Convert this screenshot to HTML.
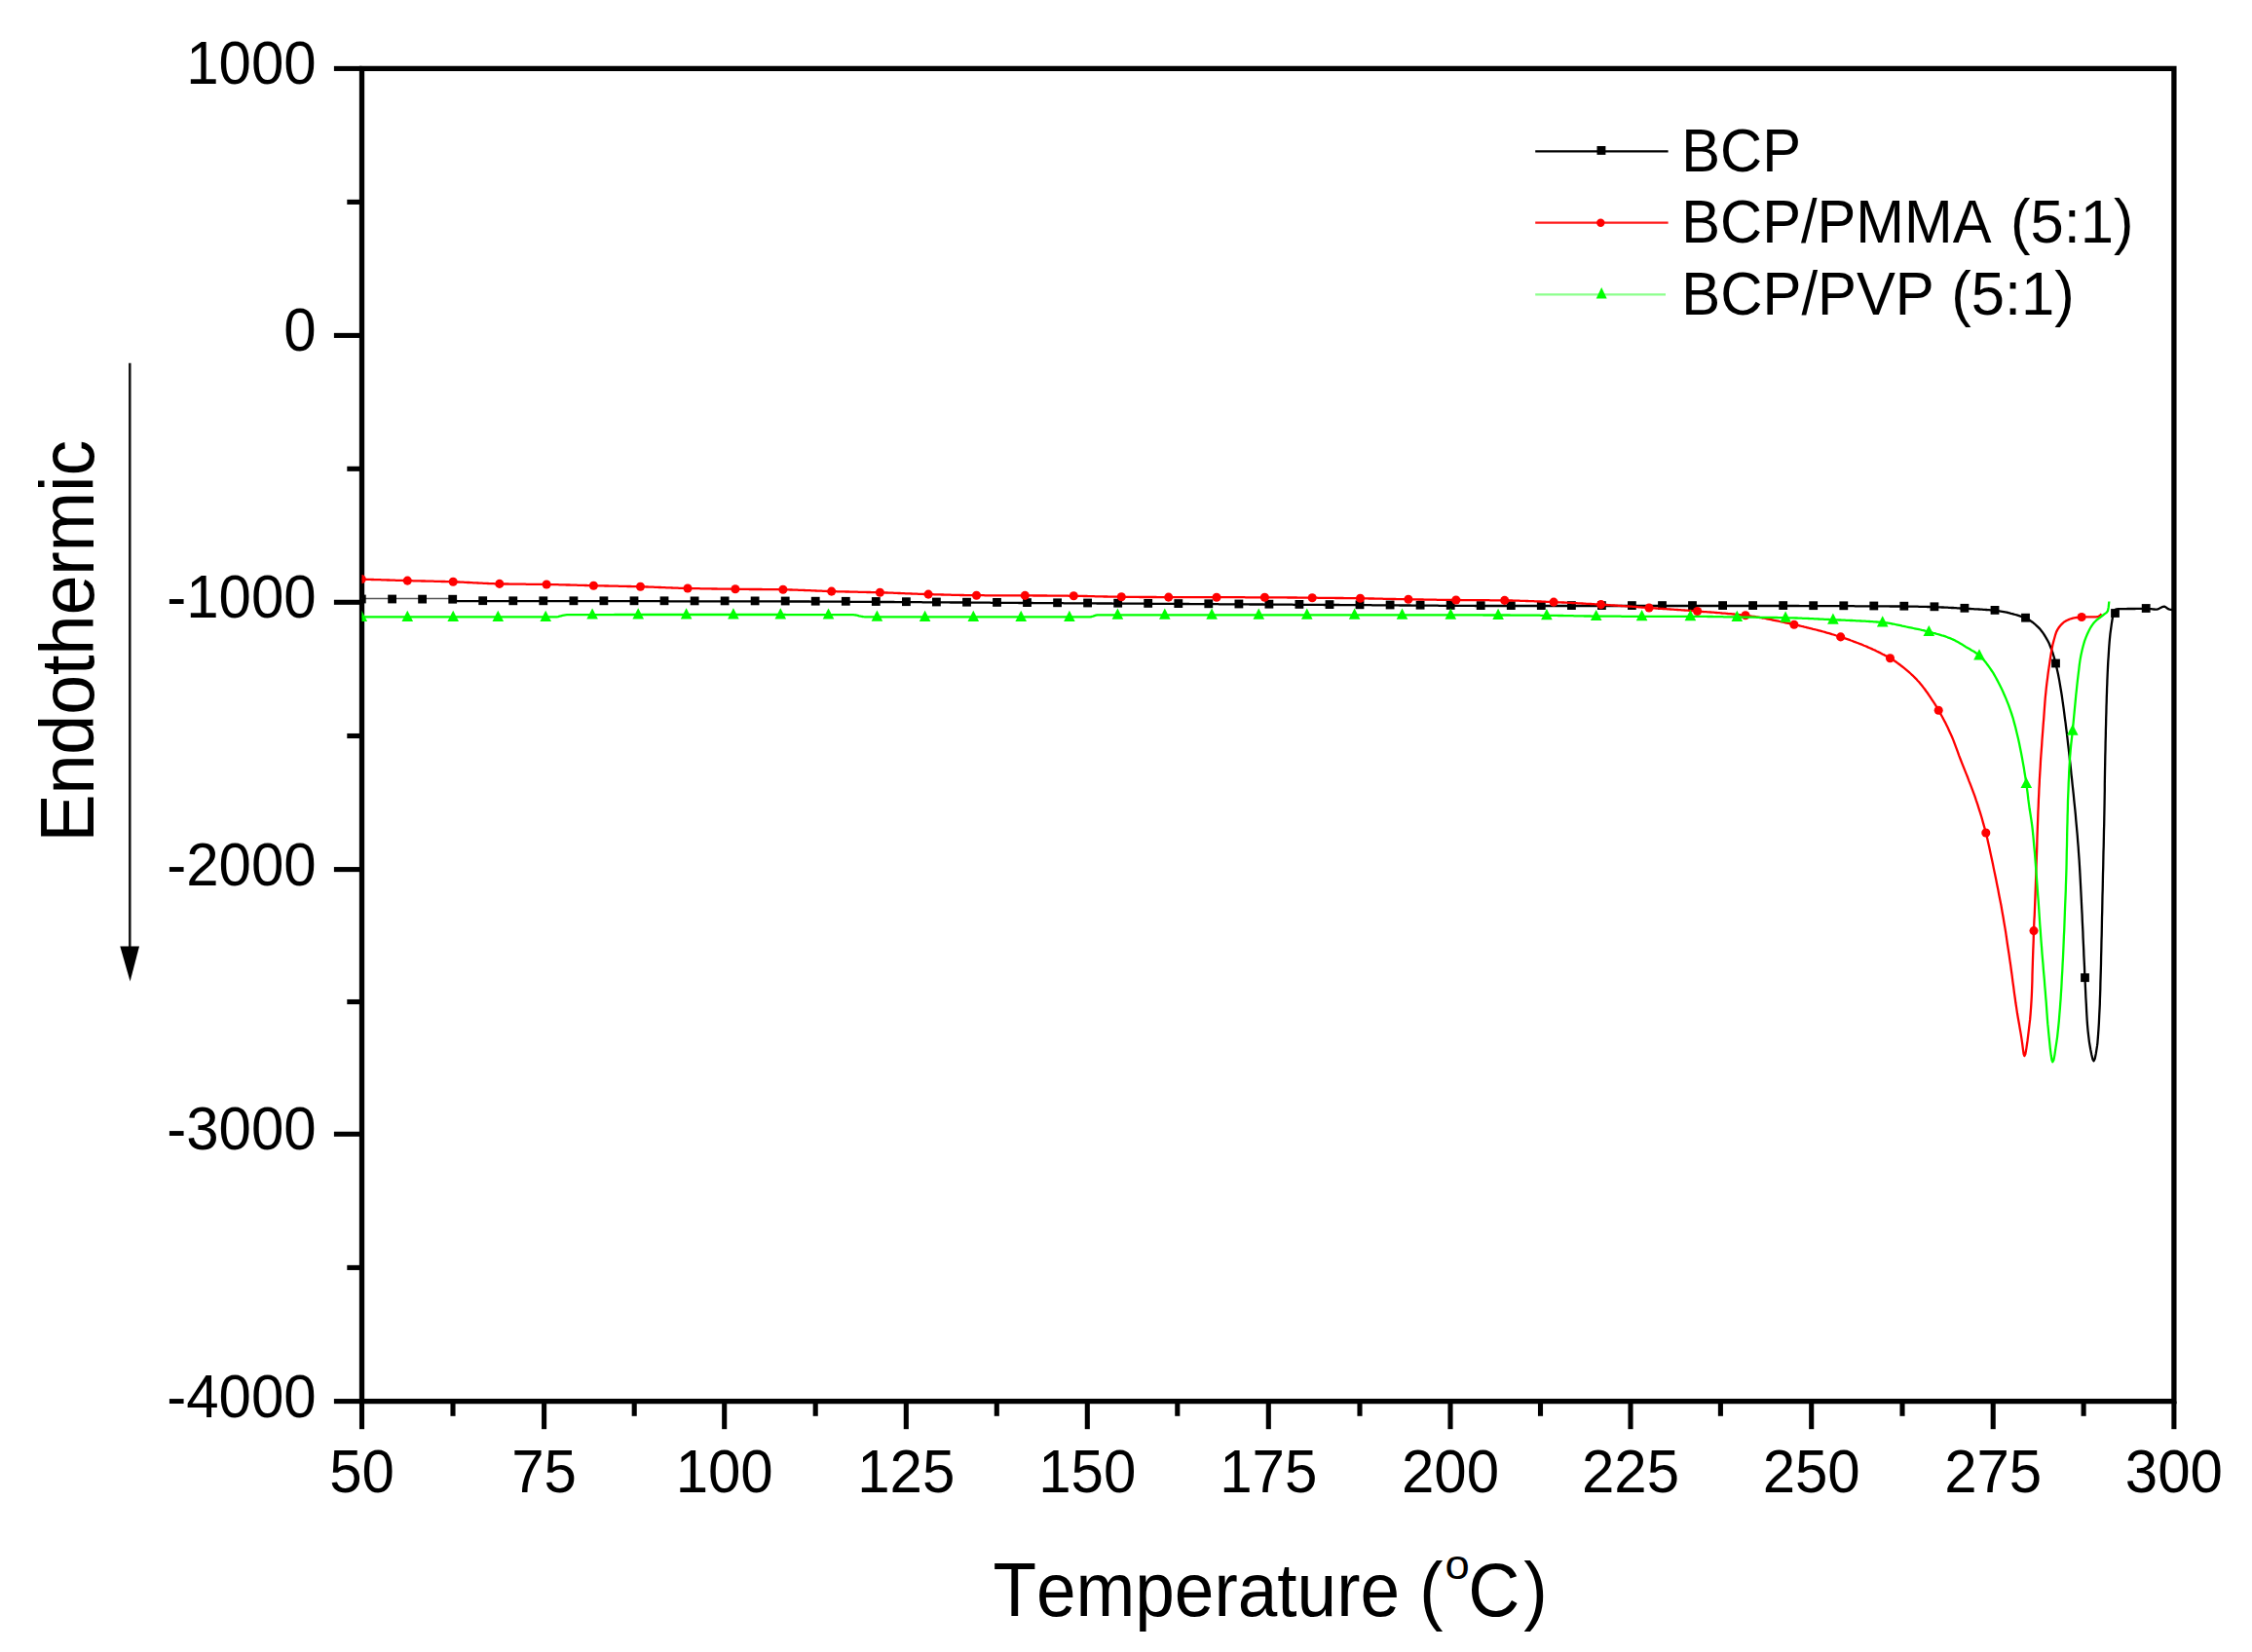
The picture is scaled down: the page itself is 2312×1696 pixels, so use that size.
<!DOCTYPE html>
<html lang="en">
<head>
<meta charset="utf-8">
<title>DSC thermogram</title>
<style>
html,body{margin:0;padding:0;background:#fff;}
body{width:2312px;height:1696px;overflow:hidden;}
svg{display:block;font-family:"Liberation Sans",Arial,Helvetica,sans-serif;font-kerning:none;font-variant-ligatures:none;}
</style>
</head>
<body>
<svg width="2312" height="1696" viewBox="0 0 2312 1696">
<rect width="2312" height="1696" fill="#fff"/>
<defs><clipPath id="plot"><rect x="371.5" y="70.4" width="1860.4" height="1368.2"/></clipPath></defs>
<g stroke="#000" fill="none" stroke-linecap="butt">
<rect x="371.5" y="70.4" width="1860.4" height="1368.2" stroke-width="5.3"/>
<line x1="342.9" y1="70.4" x2="371.5" y2="70.4" stroke-width="5.1"/>
<line x1="356.3" y1="207.4" x2="371.5" y2="207.4" stroke-width="5.1"/>
<line x1="342.9" y1="344.4" x2="371.5" y2="344.4" stroke-width="5.1"/>
<line x1="356.3" y1="481.3" x2="371.5" y2="481.3" stroke-width="5.1"/>
<line x1="342.9" y1="618.3" x2="371.5" y2="618.3" stroke-width="5.1"/>
<line x1="356.3" y1="755.5" x2="371.5" y2="755.5" stroke-width="5.1"/>
<line x1="342.9" y1="892.6" x2="371.5" y2="892.6" stroke-width="5.1"/>
<line x1="356.3" y1="1028.5" x2="371.5" y2="1028.5" stroke-width="5.1"/>
<line x1="342.9" y1="1164.3" x2="371.5" y2="1164.3" stroke-width="5.1"/>
<line x1="356.3" y1="1301.4" x2="371.5" y2="1301.4" stroke-width="5.1"/>
<line x1="342.9" y1="1438.6" x2="371.5" y2="1438.6" stroke-width="5.1"/>
<line x1="371.5" y1="1438.6" x2="371.5" y2="1467.2" stroke-width="5.1"/>
<line x1="465.0" y1="1438.6" x2="465.0" y2="1453.8" stroke-width="5.1"/>
<line x1="558.6" y1="1438.6" x2="558.6" y2="1467.2" stroke-width="5.1"/>
<line x1="651.2" y1="1438.6" x2="651.2" y2="1453.8" stroke-width="5.1"/>
<line x1="743.7" y1="1438.6" x2="743.7" y2="1467.2" stroke-width="5.1"/>
<line x1="837.2" y1="1438.6" x2="837.2" y2="1453.8" stroke-width="5.1"/>
<line x1="930.3" y1="1438.6" x2="930.3" y2="1467.2" stroke-width="5.1"/>
<line x1="1023.3" y1="1438.6" x2="1023.3" y2="1453.8" stroke-width="5.1"/>
<line x1="1116.3" y1="1438.6" x2="1116.3" y2="1467.2" stroke-width="5.1"/>
<line x1="1208.8" y1="1438.6" x2="1208.8" y2="1453.8" stroke-width="5.1"/>
<line x1="1302.3" y1="1438.6" x2="1302.3" y2="1467.2" stroke-width="5.1"/>
<line x1="1396.0" y1="1438.6" x2="1396.0" y2="1453.8" stroke-width="5.1"/>
<line x1="1489.0" y1="1438.6" x2="1489.0" y2="1467.2" stroke-width="5.1"/>
<line x1="1581.5" y1="1438.6" x2="1581.5" y2="1453.8" stroke-width="5.1"/>
<line x1="1674.0" y1="1438.6" x2="1674.0" y2="1467.2" stroke-width="5.1"/>
<line x1="1766.4" y1="1438.6" x2="1766.4" y2="1453.8" stroke-width="5.1"/>
<line x1="1859.7" y1="1438.6" x2="1859.7" y2="1467.2" stroke-width="5.1"/>
<line x1="1953.0" y1="1438.6" x2="1953.0" y2="1453.8" stroke-width="5.1"/>
<line x1="2046.2" y1="1438.6" x2="2046.2" y2="1467.2" stroke-width="5.1"/>
<line x1="2139.1" y1="1438.6" x2="2139.1" y2="1453.8" stroke-width="5.1"/>
<line x1="2231.9" y1="1438.6" x2="2231.9" y2="1467.2" stroke-width="5.1"/>
</g>
<g clip-path="url(#plot)" stroke-linejoin="round" stroke-linecap="butt">
<path fill="none" stroke-width="1.5" stroke="#555" d="M371.3 614.6L466 614.6"/>
<path fill="none" stroke-width="2.3" stroke="#000" d="M465.0 615.6L466.2 615.8L467.5 616.4L468.8 616.9L470.0 617.1L471.5 617.1L473.0 617.1L474.5 617.1L476.0 617.1L477.5 617.1L479.0 617.1L480.5 617.1L482.0 617.1L483.5 617.1L485.0 617.1L486.5 617.1L488.0 617.1L489.5 617.1L491.0 617.1L492.5 617.1L494.0 617.1L495.5 617.1L497.0 617.1L498.4 617.2L499.9 617.2L501.4 617.2L502.9 617.2L504.4 617.2L505.9 617.2L507.4 617.2L508.9 617.2L510.4 617.2L511.9 617.2L513.4 617.2L514.9 617.2L516.4 617.2L517.9 617.2L519.4 617.2L520.9 617.2L522.4 617.2L523.9 617.2L525.4 617.2L526.9 617.2L528.4 617.2L529.9 617.2L531.4 617.2L532.9 617.2L534.4 617.2L535.9 617.2L537.4 617.2L538.9 617.2L540.4 617.2L541.9 617.2L543.4 617.2L544.9 617.2L546.4 617.2L547.9 617.2L549.4 617.2L550.9 617.2L552.4 617.2L553.9 617.2L555.3 617.2L556.8 617.2L558.3 617.2L559.8 617.2L561.3 617.2L562.8 617.2L564.3 617.2L565.8 617.2L567.3 617.2L568.8 617.2L570.3 617.2L571.8 617.2L573.3 617.2L574.8 617.2L576.3 617.2L577.8 617.2L579.3 617.2L580.8 617.2L582.3 617.2L583.8 617.2L585.3 617.2L586.8 617.2L588.3 617.2L589.8 617.2L591.3 617.2L592.8 617.2L594.3 617.2L595.8 617.2L597.3 617.2L598.8 617.2L600.3 617.2L601.8 617.2L603.3 617.2L604.8 617.2L606.3 617.2L607.8 617.2L609.3 617.2L610.7 617.2L612.2 617.2L613.7 617.2L615.2 617.2L616.7 617.2L618.2 617.2L619.7 617.2L621.2 617.2L622.7 617.2L624.2 617.2L625.7 617.2L627.2 617.2L628.7 617.2L630.2 617.2L631.7 617.2L633.2 617.2L634.7 617.2L636.2 617.2L637.7 617.2L639.2 617.2L640.7 617.2L642.2 617.2L643.7 617.2L645.2 617.2L646.7 617.2L648.2 617.2L649.7 617.2L651.2 617.2L652.7 617.2L654.2 617.2L655.7 617.2L657.2 617.2L658.7 617.2L660.2 617.2L661.7 617.2L663.2 617.2L664.7 617.2L666.1 617.2L667.6 617.2L669.1 617.2L670.6 617.2L672.1 617.2L673.6 617.2L675.1 617.2L676.6 617.2L678.1 617.2L679.6 617.2L681.1 617.2L682.6 617.2L684.1 617.2L685.6 617.2L687.1 617.3L688.6 617.3L690.1 617.3L691.6 617.3L693.1 617.3L694.6 617.3L696.1 617.3L697.6 617.3L699.1 617.3L700.6 617.3L702.1 617.3L703.6 617.3L705.1 617.3L706.6 617.3L708.1 617.3L709.6 617.3L711.1 617.3L712.6 617.3L714.1 617.3L715.6 617.3L717.1 617.3L718.6 617.3L720.1 617.3L721.6 617.3L723.0 617.3L724.5 617.3L726.0 617.3L727.5 617.3L729.0 617.3L730.5 617.3L732.0 617.3L733.5 617.3L735.0 617.3L736.5 617.3L738.0 617.3L739.5 617.3L741.0 617.3L742.5 617.3L744.0 617.3L745.5 617.3L747.0 617.3L748.5 617.3L750.0 617.3L751.5 617.3L753.0 617.3L754.5 617.3L756.0 617.3L757.5 617.3L759.0 617.3L760.5 617.3L762.0 617.3L763.5 617.3L765.0 617.3L766.5 617.3L767.9 617.3L769.4 617.3L770.9 617.3L772.4 617.3L773.9 617.3L775.4 617.3L776.9 617.4L778.4 617.4L779.9 617.4L781.4 617.4L782.9 617.4L784.4 617.4L785.9 617.4L787.4 617.4L788.9 617.4L790.4 617.4L791.9 617.4L793.4 617.4L794.9 617.4L796.4 617.4L797.9 617.4L799.4 617.4L800.9 617.4L802.4 617.4L803.8 617.4L805.3 617.4L806.8 617.4L808.3 617.5L809.8 617.5L811.3 617.5L812.8 617.5L814.3 617.5L815.8 617.5L817.3 617.5L818.8 617.5L820.3 617.5L821.8 617.5L823.3 617.5L824.8 617.5L826.3 617.5L827.8 617.5L829.3 617.5L830.8 617.5L832.3 617.6L833.8 617.6L835.3 617.6L836.8 617.6L838.2 617.6L839.7 617.6L841.2 617.6L842.7 617.6L844.2 617.6L845.7 617.6L847.2 617.6L848.7 617.6L850.2 617.6L851.7 617.6L853.2 617.7L854.7 617.7L856.2 617.7L857.7 617.7L859.2 617.7L860.7 617.7L862.2 617.7L863.7 617.7L865.2 617.7L866.7 617.7L868.2 617.7L869.7 617.7L871.2 617.8L872.6 617.8L874.1 617.8L875.6 617.8L877.1 617.8L878.6 617.8L880.1 617.8L881.6 617.8L883.1 617.8L884.6 617.8L886.1 617.8L887.6 617.9L889.1 617.9L890.6 617.9L892.1 617.9L893.6 617.9L895.1 617.9L896.6 617.9L898.1 617.9L899.6 617.9L901.1 617.9L902.6 617.9L904.1 618.0L905.6 618.0L907.1 618.0L908.5 618.0L910.0 618.0L911.5 618.0L913.0 618.0L914.5 618.0L916.0 618.0L917.5 618.0L919.0 618.1L920.5 618.1L922.0 618.1L923.5 618.1L925.0 618.1L926.5 618.1L928.0 618.1L929.5 618.1L931.0 618.1L932.5 618.1L934.0 618.2L935.5 618.2L937.0 618.2L938.5 618.2L940.0 618.2L941.5 618.2L942.9 618.2L944.4 618.2L945.9 618.2L947.4 618.3L948.9 618.3L950.4 618.3L951.9 618.3L953.4 618.3L954.9 618.3L956.4 618.3L957.9 618.3L959.4 618.3L960.9 618.3L962.4 618.4L963.9 618.4L965.4 618.4L966.9 618.4L968.4 618.4L969.9 618.4L971.4 618.4L972.9 618.4L974.4 618.4L975.9 618.5L977.4 618.5L978.8 618.5L980.3 618.5L981.8 618.5L983.3 618.5L984.8 618.5L986.3 618.5L987.8 618.5L989.3 618.6L990.8 618.6L992.3 618.6L993.8 618.6L995.3 618.6L996.8 618.6L998.3 618.6L999.8 618.6L1001.3 618.6L1002.8 618.6L1004.3 618.7L1005.8 618.7L1007.3 618.7L1008.8 618.7L1010.3 618.7L1011.8 618.7L1013.2 618.7L1014.7 618.7L1016.2 618.7L1017.7 618.8L1019.2 618.8L1020.7 618.8L1022.2 618.8L1023.7 618.8L1025.2 618.8L1026.7 618.8L1028.2 618.8L1029.7 618.8L1031.2 618.9L1032.7 618.9L1034.2 618.9L1035.7 618.9L1037.2 618.9L1038.7 618.9L1040.2 618.9L1041.7 618.9L1043.2 618.9L1044.7 618.9L1046.2 619.0L1047.6 619.0L1049.1 619.0L1050.6 619.0L1052.1 619.0L1053.6 619.0L1055.1 619.0L1056.6 619.0L1058.1 619.0L1059.6 619.0L1061.1 619.1L1062.6 619.1L1064.1 619.1L1065.6 619.1L1067.1 619.1L1068.6 619.1L1070.1 619.1L1071.6 619.1L1073.1 619.1L1074.6 619.1L1076.1 619.2L1077.6 619.2L1079.1 619.2L1080.6 619.2L1082.1 619.2L1083.5 619.2L1085.0 619.2L1086.5 619.2L1088.0 619.2L1089.5 619.2L1091.0 619.2L1092.5 619.3L1094.0 619.3L1095.5 619.3L1097.0 619.3L1098.5 619.3L1100.0 619.3L1101.5 619.3L1102.9 619.3L1104.4 619.3L1105.9 619.3L1107.4 619.3L1108.8 619.4L1110.3 619.4L1111.8 619.4L1113.2 619.4L1114.7 619.4L1116.2 619.4L1117.6 619.4L1119.1 619.4L1120.6 619.4L1122.1 619.4L1123.5 619.4L1125.0 619.4L1126.5 619.5L1127.9 619.5L1129.4 619.5L1130.9 619.5L1132.4 619.5L1133.8 619.5L1135.3 619.5L1136.8 619.5L1138.2 619.5L1139.7 619.5L1141.2 619.5L1142.6 619.6L1144.1 619.6L1145.6 619.6L1147.1 619.6L1148.5 619.6L1150.0 619.6L1151.5 619.6L1153.0 619.6L1154.5 619.6L1156.0 619.6L1157.5 619.6L1159.0 619.7L1160.5 619.7L1162.0 619.7L1163.5 619.7L1165.0 619.7L1166.5 619.7L1168.0 619.7L1169.5 619.7L1171.0 619.7L1172.5 619.7L1174.0 619.7L1175.4 619.8L1176.9 619.8L1178.4 619.8L1179.9 619.8L1181.4 619.8L1182.9 619.8L1184.4 619.8L1185.9 619.8L1187.4 619.8L1188.9 619.8L1190.4 619.9L1191.9 619.9L1193.4 619.9L1194.9 619.9L1196.4 619.9L1197.9 619.9L1199.4 619.9L1200.9 619.9L1202.4 619.9L1203.9 619.9L1205.4 619.9L1206.9 620.0L1208.4 620.0L1209.9 620.0L1211.4 620.0L1212.9 620.0L1214.4 620.0L1215.9 620.0L1217.4 620.0L1218.9 620.0L1220.4 620.0L1221.9 620.1L1223.4 620.1L1224.9 620.1L1226.3 620.1L1227.8 620.1L1229.3 620.1L1230.8 620.1L1232.3 620.1L1233.8 620.1L1235.3 620.1L1236.8 620.2L1238.3 620.2L1239.8 620.2L1241.3 620.2L1242.8 620.2L1244.3 620.2L1245.8 620.2L1247.3 620.2L1248.8 620.2L1250.3 620.2L1251.8 620.3L1253.3 620.3L1254.8 620.3L1256.3 620.3L1257.8 620.3L1259.3 620.3L1260.8 620.3L1262.3 620.3L1263.8 620.3L1265.3 620.3L1266.8 620.4L1268.3 620.4L1269.8 620.4L1271.3 620.4L1272.8 620.4L1274.3 620.4L1275.7 620.4L1277.2 620.4L1278.7 620.4L1280.2 620.4L1281.7 620.4L1283.2 620.5L1284.7 620.5L1286.2 620.5L1287.7 620.5L1289.2 620.5L1290.7 620.5L1292.2 620.5L1293.7 620.5L1295.2 620.5L1296.7 620.5L1298.2 620.6L1299.7 620.6L1301.2 620.6L1302.7 620.6L1304.2 620.6L1305.7 620.6L1307.2 620.6L1308.7 620.6L1310.2 620.6L1311.7 620.6L1313.2 620.7L1314.7 620.7L1316.2 620.7L1317.7 620.7L1319.2 620.7L1320.7 620.7L1322.2 620.7L1323.7 620.7L1325.1 620.7L1326.6 620.7L1328.1 620.8L1329.6 620.8L1331.1 620.8L1332.6 620.8L1334.1 620.8L1335.6 620.8L1337.1 620.8L1338.6 620.8L1340.1 620.8L1341.6 620.8L1343.1 620.8L1344.6 620.9L1346.1 620.9L1347.6 620.9L1349.1 620.9L1350.6 620.9L1352.1 620.9L1353.6 620.9L1355.1 620.9L1356.6 620.9L1358.1 620.9L1359.6 621.0L1361.1 621.0L1362.6 621.0L1364.1 621.0L1365.6 621.0L1367.1 621.0L1368.6 621.0L1370.1 621.0L1371.6 621.0L1373.1 621.0L1374.6 621.0L1376.0 621.1L1377.5 621.1L1379.0 621.1L1380.5 621.1L1382.0 621.1L1383.5 621.1L1385.0 621.1L1386.5 621.1L1388.0 621.1L1389.5 621.1L1391.0 621.1L1392.5 621.2L1394.0 621.2L1395.5 621.2L1397.0 621.2L1398.5 621.2L1400.0 621.2L1401.5 621.2L1403.0 621.2L1404.5 621.2L1406.0 621.2L1407.4 621.2L1408.9 621.3L1410.4 621.3L1411.9 621.3L1413.4 621.3L1414.9 621.3L1416.4 621.3L1417.9 621.3L1419.4 621.3L1420.9 621.3L1422.3 621.3L1423.8 621.4L1425.3 621.4L1426.8 621.4L1428.3 621.4L1429.8 621.4L1431.3 621.4L1432.8 621.4L1434.3 621.4L1435.7 621.4L1437.2 621.5L1438.7 621.5L1440.2 621.5L1441.7 621.5L1443.2 621.5L1444.7 621.5L1446.2 621.5L1447.7 621.5L1449.1 621.6L1450.6 621.6L1452.1 621.6L1453.6 621.6L1455.1 621.6L1456.6 621.6L1458.1 621.6L1459.6 621.6L1461.1 621.6L1462.6 621.7L1464.0 621.7L1465.5 621.7L1467.0 621.7L1468.5 621.7L1470.0 621.7L1471.5 621.7L1473.0 621.7L1474.5 621.7L1476.0 621.7L1477.4 621.8L1478.9 621.8L1480.4 621.8L1481.9 621.8L1483.4 621.8L1484.9 621.8L1486.4 621.8L1487.9 621.8L1489.4 621.8L1490.9 621.8L1492.3 621.8L1493.8 621.9L1495.3 621.9L1496.8 621.9L1498.3 621.9L1499.8 621.9L1501.3 621.9L1502.8 621.9L1504.3 621.9L1505.7 621.9L1507.2 621.9L1508.7 621.9L1510.2 621.9L1511.7 621.9L1513.2 621.9L1514.7 622.0L1516.2 622.0L1517.7 622.0L1519.1 622.0L1520.6 622.0L1522.1 622.0L1523.6 622.0L1525.1 622.0L1526.6 622.0L1528.1 622.0L1529.6 622.0L1531.1 622.0L1532.6 622.0L1534.0 622.0L1535.5 622.0L1537.0 622.0L1538.5 622.0L1540.0 622.0L1541.5 622.0L1543.0 622.0L1544.5 622.0L1546.0 622.0L1547.5 622.0L1549.0 622.0L1550.5 622.0L1552.0 622.0L1553.4 622.0L1554.9 622.0L1556.4 622.0L1557.9 622.0L1559.4 622.0L1560.9 622.0L1562.4 622.0L1563.9 622.0L1565.4 622.0L1566.9 622.0L1568.4 622.0L1569.9 622.0L1571.4 622.0L1572.9 622.0L1574.4 622.0L1575.9 622.0L1577.4 622.0L1578.9 622.0L1580.3 622.0L1581.8 622.0L1583.3 622.0L1584.8 622.0L1586.3 622.0L1587.8 622.0L1589.3 622.0L1590.8 622.0L1592.3 622.0L1593.8 622.0L1595.3 622.0L1596.8 622.0L1598.3 622.0L1599.8 622.0L1601.3 622.0L1602.8 622.0L1604.3 622.0L1605.7 622.0L1607.2 622.0L1608.7 622.0L1610.2 622.0L1611.7 622.0L1613.2 622.0L1614.7 622.0L1616.2 622.0L1617.7 622.0L1619.2 622.0L1620.7 622.0L1622.2 622.0L1623.7 622.0L1625.2 622.0L1626.7 622.0L1628.2 622.0L1629.7 622.0L1631.1 622.0L1632.6 622.0L1634.1 622.0L1635.6 622.0L1637.1 622.0L1638.6 622.0L1640.1 622.0L1641.6 622.0L1643.1 622.0L1644.6 622.0L1646.1 622.0L1647.6 622.0L1649.1 622.0L1650.6 622.0L1652.1 622.0L1653.6 622.0L1655.1 622.0L1656.6 622.0L1658.0 622.0L1659.5 622.0L1661.0 622.0L1662.5 622.0L1664.0 622.0L1665.5 622.0L1667.0 622.0L1668.5 622.0L1670.0 622.0L1671.5 622.0L1673.0 622.0L1674.5 622.0L1676.0 622.0L1677.5 622.0L1679.0 622.0L1680.5 622.0L1682.0 622.0L1683.4 622.0L1684.9 622.0L1686.4 622.0L1687.9 622.0L1689.4 622.0L1690.9 622.0L1692.4 622.0L1693.9 622.0L1695.4 622.0L1696.9 622.0L1698.4 622.0L1699.9 622.0L1701.4 622.0L1702.9 622.0L1704.4 622.0L1705.9 622.0L1707.4 622.0L1708.9 622.0L1710.3 622.0L1711.8 622.0L1713.3 622.0L1714.8 622.0L1716.3 622.0L1717.8 622.0L1719.3 622.0L1720.8 622.0L1722.3 622.0L1723.8 622.0L1725.3 622.0L1726.8 622.0L1728.3 622.0L1729.8 622.0L1731.3 622.0L1732.8 622.0L1734.3 622.0L1735.7 622.0L1737.2 622.0L1738.7 622.0L1740.2 622.0L1741.7 622.0L1743.2 622.0L1744.7 622.0L1746.2 622.0L1747.7 622.0L1749.2 622.0L1750.7 622.0L1752.2 622.0L1753.7 622.0L1755.2 622.0L1756.7 622.0L1758.2 622.0L1759.7 622.0L1761.1 622.0L1762.6 622.0L1764.1 622.0L1765.6 622.0L1767.1 622.0L1768.6 622.0L1770.1 622.0L1771.6 622.0L1773.1 622.0L1774.6 622.0L1776.1 622.0L1777.6 622.0L1779.1 622.0L1780.6 622.0L1782.1 622.0L1783.6 622.0L1785.1 622.0L1786.6 622.0L1788.0 622.0L1789.5 622.0L1791.0 622.0L1792.5 622.0L1794.0 622.0L1795.5 622.0L1797.0 622.0L1798.5 622.0L1800.0 622.0L1801.5 622.0L1803.0 622.0L1804.5 622.0L1806.0 622.0L1807.5 622.0L1809.0 622.0L1810.5 622.0L1812.0 622.0L1813.5 622.0L1815.0 622.0L1816.4 622.0L1817.9 622.0L1819.4 622.0L1820.9 622.0L1822.4 622.0L1823.9 622.0L1825.4 622.0L1826.9 622.0L1828.4 622.0L1829.9 622.0L1831.4 622.0L1832.9 622.0L1834.4 622.0L1835.9 622.0L1837.4 622.0L1838.9 622.0L1840.4 622.0L1841.9 622.0L1843.4 622.0L1844.9 622.0L1846.4 622.0L1847.9 622.1L1849.3 622.1L1850.8 622.1L1852.3 622.1L1853.8 622.1L1855.3 622.1L1856.8 622.1L1858.3 622.1L1859.8 622.1L1861.3 622.1L1862.8 622.1L1864.3 622.1L1865.8 622.1L1867.3 622.1L1868.8 622.1L1870.3 622.1L1871.8 622.1L1873.3 622.1L1874.8 622.1L1876.3 622.1L1877.8 622.1L1879.3 622.1L1880.7 622.1L1882.2 622.2L1883.7 622.2L1885.2 622.2L1886.7 622.2L1888.2 622.2L1889.7 622.2L1891.2 622.2L1892.7 622.2L1894.2 622.2L1895.7 622.2L1897.2 622.2L1898.7 622.2L1900.2 622.2L1901.7 622.2L1903.2 622.2L1904.7 622.3L1906.2 622.3L1907.7 622.3L1909.2 622.3L1910.7 622.3L1912.1 622.3L1913.6 622.3L1915.1 622.3L1916.6 622.3L1918.1 622.3L1919.6 622.3L1921.1 622.3L1922.6 622.3L1924.1 622.4L1925.6 622.4L1927.1 622.4L1928.6 622.4L1930.1 622.4L1931.6 622.4L1933.1 622.4L1934.6 622.4L1936.1 622.4L1937.6 622.4L1939.1 622.4L1940.6 622.5L1942.1 622.5L1943.6 622.5L1945.0 622.5L1946.5 622.5L1948.0 622.5L1949.5 622.5L1951.0 622.5L1952.5 622.5L1954.0 622.6L1955.5 622.6L1957.0 622.6L1958.5 622.6L1960.0 622.6L1961.5 622.6L1962.9 622.6L1964.4 622.6L1965.8 622.7L1967.3 622.7L1968.8 622.7L1970.2 622.8L1971.7 622.8L1973.2 622.8L1974.6 622.9L1976.1 622.9L1977.5 622.9L1979.0 623.0L1980.5 623.0L1981.9 623.1L1983.4 623.1L1984.8 623.2L1986.3 623.2L1987.8 623.2L1989.2 623.3L1990.7 623.4L1992.1 623.4L1993.6 623.5L1995.0 623.5L1996.5 623.6L1997.9 623.7L1999.4 623.7L2000.8 623.8L2002.3 623.9L2003.7 624.0L2005.2 624.0L2006.6 624.1L2008.1 624.2L2009.5 624.3L2011.0 624.4L2012.4 624.5L2013.9 624.5L2015.3 624.6L2016.8 624.7L2018.3 624.8L2019.8 624.9L2021.3 624.9L2022.8 625.0L2024.3 625.1L2025.7 625.2L2027.2 625.3L2028.7 625.3L2030.2 625.4L2031.7 625.5L2033.2 625.6L2034.7 625.7L2036.2 625.8L2037.7 625.9L2039.2 626.0L2040.6 626.1L2042.1 626.2L2043.6 626.4L2045.1 626.5L2046.6 626.6L2048.1 626.8L2049.6 627.0L2051.1 627.2L2052.6 627.4L2054.1 627.6L2055.6 627.8L2057.1 628.1L2058.6 628.4L2060.1 628.7L2061.6 629.0L2063.1 629.4L2064.5 629.8L2066.0 630.1L2067.5 630.6L2069.0 631.0L2070.5 631.4L2072.0 631.9L2073.5 632.4L2075.0 632.9L2076.5 633.5L2078.0 634.0L2079.5 634.6L2080.9 635.2L2082.3 635.9L2083.7 636.8L2085.1 637.7L2086.6 638.7L2088.0 639.8L2089.4 641.0L2090.8 642.3L2092.2 643.6L2093.7 645.1L2095.1 646.8L2096.6 648.7L2098.0 650.7L2099.5 653.0L2100.9 655.4L2102.4 658.0L2103.7 660.6L2104.9 663.5L2106.2 666.9L2107.5 670.5L2109.0 675.5L2110.5 681.4L2111.7 686.6L2113.0 692.3L2114.2 698.6L2115.0 703.4L2115.9 708.7L2116.8 714.3L2117.6 720.2L2118.5 726.3L2119.3 732.5L2119.9 737.3L2120.6 742.3L2121.2 747.5L2121.9 752.8L2122.5 758.2L2123.1 763.7L2123.8 769.3L2124.4 774.9L2124.9 779.7L2125.5 784.7L2126.0 789.7L2126.5 794.8L2127.1 799.9L2127.6 805.0L2128.2 810.4L2128.8 815.8L2129.3 821.3L2129.9 827.0L2130.4 831.9L2130.9 836.9L2131.3 842.1L2131.8 847.4L2132.3 853.0L2132.8 858.5L2133.2 864.1L2133.7 870.0L2134.1 876.2L2134.6 883.0L2134.9 887.8L2135.2 892.9L2135.5 898.3L2135.8 904.0L2136.1 909.8L2136.4 915.8L2136.7 921.8L2137.0 927.9L2137.3 934.0L2137.6 939.5L2137.8 945.2L2138.1 951.0L2138.4 956.9L2138.6 963.0L2138.9 969.0L2139.2 975.1L2139.4 981.1L2139.7 987.0L2140.0 992.9L2140.2 998.6L2140.5 1004.1L2140.8 1010.6L2141.1 1017.4L2141.4 1024.2L2141.8 1030.8L2142.1 1037.1L2142.4 1042.8L2142.7 1047.8L2143.0 1051.9L2143.6 1058.7L2144.3 1064.6L2144.9 1069.6L2145.6 1073.8L2146.2 1077.3L2147.3 1082.8L2148.4 1087.3L2149.5 1089.2L2150.7 1087.0L2151.8 1081.5L2153.0 1073.9L2153.4 1070.8L2153.7 1066.8L2154.1 1061.9L2154.5 1056.2L2154.9 1049.8L2155.2 1042.6L2155.6 1034.9L2155.8 1030.9L2155.9 1026.2L2156.1 1021.0L2156.3 1015.3L2156.4 1009.2L2156.6 1002.8L2156.8 996.1L2157.0 989.3L2157.1 982.5L2157.3 975.6L2157.4 970.5L2157.5 965.2L2157.7 959.6L2157.8 953.8L2157.9 947.9L2158.0 942.0L2158.2 936.1L2158.3 930.4L2158.4 924.7L2158.5 919.0L2158.7 913.4L2158.8 907.8L2158.9 902.2L2159.0 896.7L2159.2 891.1L2159.3 885.6L2159.4 880.0L2159.5 874.4L2159.7 869.0L2159.8 863.6L2159.9 858.1L2160.0 852.4L2160.2 846.4L2160.3 840.0L2160.4 835.0L2160.5 829.5L2160.6 823.7L2160.7 817.6L2160.8 811.4L2160.8 805.2L2160.9 799.2L2161.0 793.5L2161.1 788.2L2161.2 783.4L2161.3 776.2L2161.5 769.2L2161.6 762.3L2161.8 755.6L2161.9 749.2L2162.1 742.9L2162.2 736.9L2162.4 731.1L2162.5 725.5L2162.7 720.3L2162.8 715.3L2163.0 710.6L2163.1 706.3L2163.3 702.3L2163.4 698.6L2163.7 691.5L2164.0 684.9L2164.3 678.9L2164.7 673.4L2165.0 668.4L2165.3 663.9L2165.6 659.8L2165.9 656.3L2166.5 650.3L2167.2 645.3L2167.8 640.9L2168.4 637.0L2169.3 631.2L2170.2 627.6L2171.6 625.9L2173.0 625.3L2174.4 625.2L2175.8 625.2L2177.2 625.1L2178.6 625.1L2180.0 625.1L2181.4 625.1L2182.9 625.1L2184.3 625.0L2185.8 625.0L2187.2 625.0L2188.7 625.0L2190.2 625.0L2191.6 625.0L2193.0 624.9L2194.5 624.9L2195.9 624.9L2197.4 624.9L2198.8 624.9L2200.3 624.9L2201.8 624.9L2203.2 624.9L2204.5 624.9L2205.9 625.0L2207.2 625.1L2208.6 625.2L2209.9 625.4L2211.3 625.5L2212.7 625.6L2214.0 625.6L2215.3 625.4L2216.7 624.8L2218.0 624.1L2219.3 623.4L2220.7 622.8L2222.0 622.6L2223.3 623.2L2224.7 624.3L2226.0 625.2L2227.3 625.6L2228.7 625.9L2230.0 626.0"/>
<g fill="#000">
<rect x="366.9" y="610.6" width="8.8" height="8.8"/>
<rect x="398.2" y="610.6" width="8.8" height="8.8"/>
<rect x="429.2" y="610.7" width="8.8" height="8.8"/>
<rect x="460.3" y="610.8" width="8.8" height="8.8"/>
<rect x="491.3" y="612.3" width="8.8" height="8.8"/>
<rect x="522.4" y="612.4" width="8.8" height="8.8"/>
<rect x="553.4" y="612.4" width="8.8" height="8.8"/>
<rect x="584.5" y="612.4" width="8.8" height="8.8"/>
<rect x="615.5" y="612.4" width="8.8" height="8.8"/>
<rect x="646.6" y="612.4" width="8.8" height="8.8"/>
<rect x="677.6" y="612.4" width="8.8" height="8.8"/>
<rect x="708.7" y="612.5" width="8.8" height="8.8"/>
<rect x="739.7" y="612.5" width="8.8" height="8.8"/>
<rect x="770.7" y="612.5" width="8.8" height="8.8"/>
<rect x="801.8" y="612.6" width="8.8" height="8.8"/>
<rect x="832.8" y="612.8" width="8.8" height="8.8"/>
<rect x="863.9" y="612.9" width="8.8" height="8.8"/>
<rect x="894.9" y="613.1" width="8.8" height="8.8"/>
<rect x="926.0" y="613.3" width="8.8" height="8.8"/>
<rect x="957.0" y="613.6" width="8.8" height="8.8"/>
<rect x="988.1" y="613.8" width="8.8" height="8.8"/>
<rect x="1019.1" y="614.0" width="8.8" height="8.8"/>
<rect x="1050.1" y="614.2" width="8.8" height="8.8"/>
<rect x="1081.2" y="614.4" width="8.8" height="8.8"/>
<rect x="1112.2" y="614.6" width="8.8" height="8.8"/>
<rect x="1143.3" y="614.8" width="8.8" height="8.8"/>
<rect x="1174.3" y="615.0" width="8.8" height="8.8"/>
<rect x="1205.4" y="615.2" width="8.8" height="8.8"/>
<rect x="1236.4" y="615.4" width="8.8" height="8.8"/>
<rect x="1267.5" y="615.6" width="8.8" height="8.8"/>
<rect x="1298.5" y="615.8" width="8.8" height="8.8"/>
<rect x="1329.5" y="616.0" width="8.8" height="8.8"/>
<rect x="1360.6" y="616.2" width="8.8" height="8.8"/>
<rect x="1391.6" y="616.4" width="8.8" height="8.8"/>
<rect x="1422.7" y="616.6" width="8.8" height="8.8"/>
<rect x="1453.7" y="616.8" width="8.8" height="8.8"/>
<rect x="1484.8" y="617.0" width="8.8" height="8.8"/>
<rect x="1515.8" y="617.2" width="8.8" height="8.8"/>
<rect x="1546.9" y="617.2" width="8.8" height="8.8"/>
<rect x="1577.9" y="617.2" width="8.8" height="8.8"/>
<rect x="1609.0" y="617.2" width="8.8" height="8.8"/>
<rect x="1640.0" y="617.2" width="8.8" height="8.8"/>
<rect x="1671.0" y="617.2" width="8.8" height="8.8"/>
<rect x="1702.1" y="617.2" width="8.8" height="8.8"/>
<rect x="1733.1" y="617.2" width="8.8" height="8.8"/>
<rect x="1764.2" y="617.2" width="8.8" height="8.8"/>
<rect x="1795.2" y="617.2" width="8.8" height="8.8"/>
<rect x="1826.3" y="617.2" width="8.8" height="8.8"/>
<rect x="1857.3" y="617.3" width="8.8" height="8.8"/>
<rect x="1888.4" y="617.4" width="8.8" height="8.8"/>
<rect x="1919.4" y="617.6" width="8.8" height="8.8"/>
<rect x="1950.4" y="617.8" width="8.8" height="8.8"/>
<rect x="1981.5" y="618.4" width="8.8" height="8.8"/>
<rect x="2012.5" y="619.9" width="8.8" height="8.8"/>
<rect x="2043.6" y="622.0" width="8.8" height="8.8"/>
<rect x="2075.1" y="629.8" width="8.8" height="8.8"/>
<rect x="2106.1" y="676.6" width="8.8" height="8.8"/>
<rect x="2136.1" y="999.3" width="8.8" height="8.8"/>
<rect x="2167.1" y="625.1" width="8.8" height="8.8"/>
<rect x="2198.8" y="620.1" width="8.8" height="8.8"/>
</g>
<path fill="none" stroke-width="2.3" stroke="#ff0000" d="M371.3 594.6L372.8 594.7L374.2 594.7L375.7 594.8L377.2 594.8L378.6 594.9L380.1 594.9L381.6 595.0L383.1 595.0L384.5 595.1L386.0 595.1L387.5 595.2L388.9 595.2L390.4 595.2L391.9 595.3L393.3 595.3L394.8 595.4L396.3 595.4L397.7 595.5L399.2 595.5L400.7 595.6L402.1 595.6L403.6 595.7L405.1 595.7L406.6 595.8L408.0 595.8L409.5 595.8L411.0 595.9L412.4 595.9L413.9 596.0L415.4 596.0L416.8 596.1L418.3 596.1L419.8 596.1L421.2 596.2L422.7 596.2L424.2 596.3L425.6 596.3L427.1 596.3L428.6 596.4L430.0 596.4L431.5 596.4L433.0 596.5L434.4 596.5L435.9 596.5L437.4 596.6L438.8 596.6L440.3 596.6L441.8 596.7L443.2 596.7L444.7 596.7L446.1 596.8L447.6 596.8L449.1 596.9L450.5 596.9L452.0 596.9L453.5 597.0L454.9 597.0L456.4 597.0L457.9 597.1L459.3 597.1L460.8 597.2L462.3 597.2L463.7 597.3L465.2 597.3L466.7 597.4L468.2 597.4L469.7 597.5L471.1 597.5L472.6 597.6L474.1 597.7L475.6 597.7L477.1 597.8L478.6 597.9L480.1 598.0L481.6 598.0L483.0 598.1L484.5 598.2L486.0 598.3L487.5 598.3L489.0 598.4L490.5 598.5L492.0 598.6L493.5 598.7L494.9 598.7L496.4 598.8L497.9 598.9L499.4 598.9L500.9 599.0L502.4 599.1L503.9 599.1L505.4 599.2L506.8 599.2L508.3 599.3L509.8 599.3L511.3 599.4L512.8 599.4L514.3 599.4L515.7 599.5L517.2 599.5L518.7 599.5L520.1 599.5L521.6 599.5L523.0 599.6L524.5 599.6L526.0 599.6L527.4 599.6L528.9 599.6L530.4 599.7L531.8 599.7L533.3 599.7L534.8 599.7L536.2 599.7L537.7 599.7L539.1 599.7L540.6 599.8L542.1 599.8L543.5 599.8L545.0 599.8L546.5 599.8L547.9 599.8L549.4 599.8L550.9 599.9L552.3 599.9L553.8 599.9L555.2 599.9L556.7 599.9L558.2 600.0L559.6 600.0L561.1 600.0L562.6 600.0L564.0 600.1L565.5 600.1L567.0 600.1L568.4 600.1L569.9 600.2L571.3 600.2L572.8 600.2L574.3 600.3L575.7 600.3L577.2 600.3L578.7 600.4L580.1 600.4L581.6 600.5L583.1 600.5L584.5 600.5L586.0 600.6L587.4 600.6L588.9 600.7L590.4 600.7L591.8 600.7L593.3 600.8L594.8 600.8L596.2 600.9L597.7 600.9L599.2 600.9L600.6 601.0L602.1 601.0L603.5 601.1L605.0 601.1L606.5 601.1L607.9 601.2L609.4 601.2L610.9 601.2L612.3 601.3L613.8 601.3L615.2 601.3L616.7 601.4L618.1 601.4L619.6 601.4L621.1 601.5L622.5 601.5L624.0 601.5L625.4 601.6L626.9 601.6L628.3 601.6L629.8 601.6L631.3 601.7L632.7 601.7L634.2 601.7L635.6 601.8L637.1 601.8L638.6 601.8L640.0 601.9L641.5 601.9L642.9 601.9L644.4 602.0L645.8 602.0L647.3 602.0L648.8 602.1L650.2 602.1L651.7 602.1L653.1 602.2L654.6 602.2L656.0 602.3L657.5 602.3L659.0 602.3L660.4 602.4L661.9 602.4L663.4 602.5L664.8 602.5L666.3 602.6L667.8 602.6L669.3 602.7L670.7 602.7L672.2 602.8L673.7 602.9L675.1 602.9L676.6 603.0L678.1 603.0L679.5 603.1L681.0 603.2L682.5 603.2L684.0 603.3L685.4 603.3L686.9 603.4L688.4 603.4L689.8 603.5L691.3 603.6L692.8 603.6L694.2 603.7L695.7 603.7L697.2 603.8L698.7 603.8L700.1 603.8L701.6 603.9L703.1 603.9L704.5 604.0L706.0 604.0L707.5 604.0L709.0 604.1L710.4 604.1L711.9 604.1L713.4 604.2L714.9 604.2L716.4 604.2L717.9 604.2L719.3 604.3L720.8 604.3L722.3 604.3L723.8 604.3L725.3 604.4L726.7 604.4L728.2 604.4L729.7 604.4L731.2 604.5L732.7 604.5L734.2 604.5L735.6 604.5L737.1 604.6L738.6 604.6L740.1 604.6L741.6 604.6L743.0 604.6L744.5 604.7L746.0 604.7L747.5 604.7L749.0 604.7L750.5 604.7L751.9 604.8L753.4 604.8L754.9 604.8L756.4 604.8L757.9 604.8L759.4 604.9L760.8 604.9L762.3 604.9L763.8 604.9L765.3 604.9L766.8 604.9L768.3 604.9L769.7 605.0L771.2 605.0L772.7 605.0L774.2 605.0L775.7 605.0L777.2 605.0L778.7 605.0L780.1 605.0L781.6 605.0L783.1 605.1L784.6 605.1L786.1 605.1L787.6 605.1L789.1 605.1L790.5 605.1L792.0 605.1L793.5 605.2L795.0 605.2L796.5 605.2L798.0 605.2L799.4 605.2L800.9 605.3L802.4 605.3L803.9 605.3L805.4 605.3L806.8 605.4L808.3 605.4L809.8 605.4L811.2 605.5L812.7 605.5L814.2 605.6L815.6 605.6L817.1 605.7L818.5 605.7L820.0 605.8L821.5 605.8L822.9 605.9L824.4 605.9L825.9 606.0L827.3 606.1L828.8 606.1L830.3 606.2L831.7 606.2L833.2 606.3L834.7 606.4L836.1 606.4L837.6 606.5L839.1 606.6L840.5 606.6L842.0 606.7L843.4 606.7L844.9 606.8L846.4 606.9L847.8 606.9L849.3 607.0L850.8 607.0L852.2 607.1L853.7 607.1L855.2 607.1L856.6 607.2L858.1 607.2L859.5 607.3L861.0 607.3L862.5 607.3L863.9 607.4L865.4 607.4L866.9 607.4L868.3 607.5L869.8 607.5L871.2 607.5L872.7 607.6L874.2 607.6L875.6 607.6L877.1 607.7L878.5 607.7L880.0 607.7L881.5 607.8L882.9 607.8L884.4 607.8L885.9 607.9L887.3 607.9L888.8 607.9L890.2 608.0L891.7 608.0L893.2 608.0L894.6 608.1L896.1 608.1L897.6 608.1L899.0 608.2L900.5 608.2L901.9 608.3L903.4 608.3L904.9 608.3L906.3 608.4L907.8 608.4L909.2 608.5L910.7 608.5L912.2 608.6L913.6 608.6L915.1 608.7L916.6 608.7L918.0 608.8L919.5 608.9L920.9 608.9L922.4 609.0L923.9 609.0L925.3 609.1L926.8 609.1L928.2 609.2L929.7 609.3L931.2 609.3L932.6 609.4L934.1 609.4L935.6 609.5L937.0 609.6L938.5 609.6L939.9 609.7L941.4 609.7L942.9 609.8L944.3 609.8L945.8 609.9L947.3 609.9L948.7 610.0L950.2 610.0L951.6 610.1L953.1 610.1L954.6 610.1L956.1 610.2L957.6 610.2L959.1 610.3L960.6 610.3L962.1 610.4L963.6 610.4L965.1 610.4L966.6 610.5L968.1 610.5L969.6 610.6L971.1 610.6L972.6 610.6L974.1 610.7L975.6 610.7L977.1 610.8L978.5 610.8L980.0 610.8L981.5 610.9L983.0 610.9L984.5 610.9L986.0 611.0L987.5 611.0L989.0 611.0L990.5 611.1L992.0 611.1L993.5 611.1L995.0 611.1L996.5 611.1L998.0 611.2L999.5 611.2L1001.0 611.2L1002.5 611.2L1004.0 611.2L1005.4 611.2L1006.9 611.2L1008.4 611.2L1009.8 611.2L1011.3 611.3L1012.8 611.3L1014.2 611.3L1015.7 611.3L1017.1 611.3L1018.6 611.3L1020.1 611.3L1021.5 611.3L1023.0 611.3L1024.5 611.3L1025.9 611.3L1027.4 611.3L1028.9 611.3L1030.3 611.3L1031.8 611.3L1033.3 611.3L1034.7 611.3L1036.2 611.3L1037.7 611.3L1039.1 611.3L1040.6 611.3L1042.0 611.4L1043.5 611.4L1045.0 611.4L1046.4 611.4L1047.9 611.4L1049.4 611.4L1050.8 611.4L1052.3 611.4L1053.8 611.4L1055.2 611.4L1056.7 611.4L1058.2 611.4L1059.7 611.4L1061.1 611.5L1062.6 611.5L1064.1 611.5L1065.5 611.5L1067.0 611.5L1068.5 611.5L1069.9 611.5L1071.4 611.5L1072.9 611.5L1074.4 611.5L1075.8 611.6L1077.3 611.6L1078.8 611.6L1080.2 611.6L1081.7 611.6L1083.2 611.6L1084.7 611.6L1086.1 611.6L1087.6 611.6L1089.1 611.7L1090.5 611.7L1092.0 611.7L1093.5 611.7L1094.9 611.7L1096.4 611.7L1097.9 611.8L1099.4 611.8L1100.8 611.8L1102.3 611.8L1103.8 611.8L1105.3 611.8L1106.8 611.9L1108.2 611.9L1109.7 611.9L1111.2 611.9L1112.7 612.0L1114.2 612.0L1115.7 612.0L1117.1 612.1L1118.6 612.1L1120.1 612.1L1121.6 612.2L1123.1 612.2L1124.6 612.3L1126.1 612.3L1127.5 612.3L1129.0 612.4L1130.5 612.4L1132.0 612.4L1133.5 612.5L1135.0 612.5L1136.5 612.5L1137.9 612.6L1139.4 612.6L1140.9 612.6L1142.4 612.7L1143.9 612.7L1145.4 612.7L1146.8 612.7L1148.3 612.8L1149.8 612.8L1151.3 612.8L1152.8 612.8L1154.2 612.8L1155.7 612.8L1157.2 612.9L1158.6 612.9L1160.1 612.9L1161.6 612.9L1163.0 612.9L1164.5 612.9L1166.0 612.9L1167.4 612.9L1168.9 612.9L1170.4 613.0L1171.8 613.0L1173.3 613.0L1174.8 613.0L1176.2 613.0L1177.7 613.0L1179.2 613.0L1180.6 613.0L1182.1 613.0L1183.6 613.0L1185.0 613.0L1186.5 613.0L1188.0 613.1L1189.4 613.1L1190.9 613.1L1192.4 613.1L1193.8 613.1L1195.3 613.1L1196.8 613.1L1198.2 613.1L1199.7 613.1L1201.2 613.1L1202.7 613.1L1204.2 613.1L1205.7 613.1L1207.2 613.1L1208.7 613.1L1210.2 613.1L1211.7 613.1L1213.1 613.1L1214.6 613.1L1216.1 613.1L1217.6 613.1L1219.1 613.1L1220.6 613.1L1222.1 613.2L1223.6 613.2L1225.1 613.2L1226.6 613.2L1228.1 613.2L1229.6 613.2L1231.1 613.2L1232.6 613.2L1234.1 613.2L1235.6 613.2L1237.0 613.2L1238.5 613.2L1240.0 613.2L1241.5 613.2L1243.0 613.2L1244.5 613.2L1246.0 613.2L1247.5 613.2L1249.0 613.2L1250.5 613.2L1252.0 613.2L1253.5 613.2L1255.0 613.2L1256.5 613.2L1258.0 613.2L1259.5 613.2L1261.0 613.2L1262.5 613.2L1264.0 613.2L1265.5 613.2L1267.0 613.2L1268.5 613.2L1270.0 613.2L1271.5 613.2L1273.0 613.2L1274.4 613.2L1275.9 613.2L1277.4 613.2L1278.9 613.3L1280.4 613.3L1281.9 613.3L1283.4 613.3L1284.9 613.3L1286.4 613.3L1287.9 613.3L1289.4 613.3L1290.9 613.3L1292.4 613.3L1293.9 613.3L1295.4 613.3L1296.9 613.3L1298.4 613.3L1299.9 613.3L1301.4 613.3L1302.8 613.3L1304.3 613.3L1305.8 613.3L1307.3 613.3L1308.8 613.4L1310.2 613.4L1311.7 613.4L1313.2 613.4L1314.7 613.4L1316.1 613.4L1317.6 613.4L1319.1 613.4L1320.6 613.4L1322.1 613.5L1323.5 613.5L1325.0 613.5L1326.5 613.5L1328.0 613.5L1329.5 613.5L1330.9 613.5L1332.4 613.6L1333.9 613.6L1335.4 613.6L1336.8 613.6L1338.3 613.6L1339.8 613.6L1341.3 613.6L1342.8 613.7L1344.2 613.7L1345.7 613.7L1347.2 613.7L1348.7 613.7L1350.2 613.7L1351.7 613.7L1353.2 613.8L1354.7 613.8L1356.2 613.8L1357.7 613.8L1359.2 613.8L1360.6 613.8L1362.1 613.9L1363.6 613.9L1365.1 613.9L1366.6 613.9L1368.1 613.9L1369.6 613.9L1371.1 614.0L1372.6 614.0L1374.1 614.0L1375.6 614.0L1377.1 614.0L1378.6 614.0L1380.1 614.1L1381.6 614.1L1383.1 614.1L1384.5 614.1L1386.0 614.1L1387.5 614.2L1389.0 614.2L1390.5 614.2L1392.0 614.2L1393.5 614.3L1395.0 614.3L1396.5 614.3L1398.0 614.3L1399.5 614.3L1401.0 614.4L1402.5 614.4L1404.0 614.4L1405.5 614.5L1407.0 614.5L1408.5 614.5L1410.0 614.5L1411.5 614.6L1413.0 614.6L1414.5 614.6L1416.0 614.7L1417.5 614.7L1419.0 614.7L1420.5 614.8L1421.9 614.8L1423.4 614.8L1424.9 614.9L1426.4 614.9L1427.9 614.9L1429.4 615.0L1430.9 615.0L1432.4 615.0L1433.9 615.1L1435.4 615.1L1436.9 615.1L1438.4 615.2L1439.9 615.2L1441.4 615.2L1442.9 615.2L1444.4 615.3L1445.9 615.3L1447.4 615.3L1448.9 615.3L1450.3 615.4L1451.8 615.4L1453.3 615.4L1454.8 615.4L1456.3 615.5L1457.8 615.5L1459.2 615.5L1460.7 615.5L1462.2 615.6L1463.7 615.6L1465.2 615.6L1466.6 615.6L1468.1 615.7L1469.6 615.7L1471.1 615.7L1472.6 615.7L1474.1 615.7L1475.5 615.8L1477.0 615.8L1478.5 615.8L1480.0 615.8L1481.5 615.8L1482.9 615.9L1484.4 615.9L1485.9 615.9L1487.4 615.9L1488.9 615.9L1490.4 616.0L1491.8 616.0L1493.3 616.0L1494.8 616.0L1496.3 616.0L1497.7 616.0L1499.2 616.0L1500.7 616.1L1502.1 616.1L1503.6 616.1L1505.1 616.1L1506.5 616.1L1508.0 616.1L1509.5 616.1L1510.9 616.1L1512.4 616.1L1513.9 616.1L1515.3 616.2L1516.8 616.2L1518.3 616.2L1519.8 616.2L1521.2 616.2L1522.7 616.2L1524.2 616.2L1525.6 616.2L1527.1 616.2L1528.6 616.2L1530.0 616.3L1531.5 616.3L1533.0 616.3L1534.4 616.3L1535.9 616.3L1537.4 616.3L1538.8 616.3L1540.3 616.3L1541.8 616.4L1543.2 616.4L1544.7 616.4L1546.2 616.4L1547.7 616.4L1549.1 616.5L1550.6 616.5L1552.1 616.5L1553.6 616.6L1555.1 616.6L1556.6 616.6L1558.0 616.7L1559.5 616.7L1561.0 616.8L1562.5 616.8L1564.0 616.9L1565.5 616.9L1566.9 617.0L1568.4 617.0L1569.9 617.1L1571.4 617.1L1572.9 617.2L1574.3 617.2L1575.8 617.3L1577.3 617.4L1578.8 617.4L1580.3 617.5L1581.8 617.5L1583.2 617.6L1584.7 617.7L1586.2 617.7L1587.7 617.8L1589.2 617.9L1590.7 617.9L1592.1 618.0L1593.6 618.0L1595.1 618.1L1596.6 618.2L1598.0 618.2L1599.5 618.3L1601.0 618.3L1602.4 618.4L1603.9 618.5L1605.4 618.5L1606.9 618.6L1608.3 618.7L1609.8 618.8L1611.3 618.8L1612.7 618.9L1614.2 619.0L1615.7 619.1L1617.1 619.1L1618.6 619.2L1620.1 619.3L1621.6 619.4L1623.0 619.4L1624.5 619.5L1626.0 619.6L1627.4 619.7L1628.9 619.8L1630.4 619.8L1631.8 619.9L1633.3 620.0L1634.8 620.1L1636.3 620.2L1637.7 620.3L1639.2 620.3L1640.7 620.4L1642.1 620.5L1643.6 620.6L1645.1 620.7L1646.6 620.8L1648.1 620.9L1649.6 621.0L1651.1 621.1L1652.6 621.2L1654.1 621.3L1655.6 621.4L1657.1 621.5L1658.6 621.6L1660.1 621.7L1661.6 621.8L1663.1 621.9L1664.6 622.0L1666.1 622.1L1667.6 622.2L1669.0 622.3L1670.5 622.4L1672.0 622.5L1673.5 622.6L1675.0 622.7L1676.5 622.8L1678.0 622.9L1679.5 623.0L1681.0 623.1L1682.5 623.3L1684.0 623.4L1685.5 623.5L1687.0 623.6L1688.5 623.7L1690.0 623.8L1691.5 623.9L1693.0 624.0L1694.5 624.1L1695.9 624.2L1697.4 624.3L1698.8 624.4L1700.3 624.5L1701.8 624.6L1703.2 624.7L1704.7 624.8L1706.1 624.9L1707.6 625.0L1709.0 625.1L1710.5 625.2L1712.0 625.3L1713.4 625.4L1714.9 625.5L1716.3 625.6L1717.8 625.7L1719.3 625.8L1720.7 625.9L1722.2 626.0L1723.6 626.1L1725.1 626.2L1726.6 626.3L1728.0 626.4L1729.5 626.5L1730.9 626.6L1732.4 626.7L1733.8 626.8L1735.3 626.9L1736.8 627.1L1738.2 627.2L1739.7 627.3L1741.1 627.4L1742.6 627.5L1744.1 627.6L1745.6 627.7L1747.1 627.8L1748.6 628.0L1750.1 628.1L1751.6 628.2L1753.1 628.3L1754.6 628.4L1756.1 628.5L1757.6 628.6L1759.1 628.7L1760.6 628.9L1762.1 629.0L1763.6 629.1L1765.1 629.2L1766.6 629.3L1768.0 629.5L1769.5 629.6L1771.0 629.7L1772.5 629.8L1774.0 630.0L1775.5 630.1L1777.0 630.2L1778.5 630.4L1780.0 630.5L1781.5 630.7L1783.0 630.8L1784.5 631.0L1786.0 631.1L1787.5 631.3L1789.0 631.5L1790.5 631.6L1792.0 631.8L1793.5 632.0L1794.9 632.2L1796.4 632.4L1797.9 632.6L1799.3 632.8L1800.8 633.0L1802.3 633.2L1803.7 633.5L1805.2 633.7L1806.7 634.0L1808.1 634.2L1809.6 634.5L1811.1 634.7L1812.5 635.0L1814.0 635.3L1815.5 635.6L1817.0 635.9L1818.4 636.2L1819.9 636.5L1821.4 636.8L1822.8 637.1L1824.3 637.4L1825.8 637.7L1827.2 638.0L1828.7 638.3L1830.2 638.6L1831.6 638.9L1833.1 639.3L1834.6 639.6L1836.0 639.9L1837.5 640.2L1839.0 640.6L1840.4 640.9L1841.9 641.2L1843.4 641.5L1844.9 641.9L1846.4 642.2L1847.9 642.5L1849.4 642.9L1850.9 643.2L1852.4 643.6L1853.9 643.9L1855.3 644.3L1856.8 644.7L1858.3 645.0L1859.8 645.4L1861.3 645.8L1862.8 646.1L1864.3 646.5L1865.8 646.9L1867.3 647.3L1868.8 647.7L1870.3 648.1L1871.8 648.5L1873.3 648.9L1874.8 649.4L1876.3 649.8L1877.8 650.2L1879.2 650.6L1880.7 651.1L1882.2 651.5L1883.7 652.0L1885.2 652.5L1886.7 652.9L1888.2 653.4L1889.7 653.9L1891.2 654.4L1892.7 654.9L1894.2 655.4L1895.7 655.9L1897.2 656.4L1898.7 656.9L1900.2 657.5L1901.7 658.0L1903.1 658.6L1904.6 659.1L1906.1 659.7L1907.6 660.3L1909.1 660.9L1910.6 661.4L1912.1 662.0L1913.6 662.7L1915.1 663.3L1916.6 663.9L1918.1 664.6L1919.6 665.2L1921.1 665.9L1922.6 666.6L1924.1 667.2L1925.6 667.9L1927.1 668.7L1928.5 669.4L1930.0 670.1L1931.5 670.9L1933.0 671.7L1934.5 672.4L1936.0 673.2L1937.5 674.0L1939.0 674.9L1940.5 675.7L1942.0 676.6L1943.5 677.5L1945.0 678.5L1946.5 679.5L1948.0 680.6L1949.5 681.7L1951.0 682.8L1952.5 684.0L1954.0 685.2L1955.5 686.4L1957.0 687.6L1958.5 688.9L1960.0 690.2L1961.5 691.5L1962.9 692.8L1964.4 694.2L1965.8 695.6L1967.3 697.1L1968.7 698.7L1970.2 700.3L1971.6 702.0L1973.1 703.8L1974.5 705.6L1976.0 707.5L1977.4 709.5L1978.9 711.5L1980.3 713.6L1981.7 715.7L1983.1 717.8L1984.5 719.9L1986.0 722.1L1987.4 724.4L1988.8 726.8L1990.2 729.2L1991.6 731.6L1992.9 734.0L1994.3 736.5L1995.6 739.0L1997.0 741.6L1998.3 744.3L1999.7 747.1L2001.0 749.9L2002.4 752.9L2003.9 756.3L2005.4 759.9L2006.8 763.7L2008.3 767.6L2009.8 771.6L2011.2 775.6L2012.7 779.5L2014.2 783.4L2015.7 787.2L2017.2 790.9L2018.7 794.6L2020.2 798.3L2021.6 802.1L2023.1 805.9L2024.6 809.8L2026.1 813.9L2027.5 817.7L2028.8 821.7L2030.2 825.7L2031.5 829.9L2032.9 834.2L2034.4 839.0L2035.8 844.1L2037.3 849.4L2038.8 855.0L2040.0 859.7L2041.1 864.7L2042.3 869.9L2043.4 875.2L2044.6 880.7L2045.8 886.3L2046.9 891.9L2048.1 897.6L2049.2 902.8L2050.2 908.0L2051.3 913.3L2052.3 918.7L2053.4 924.2L2054.5 929.8L2055.5 935.7L2056.6 941.7L2057.4 946.7L2058.3 951.9L2059.2 957.3L2060.0 962.9L2060.8 968.5L2061.7 974.2L2062.6 980.0L2063.4 985.8L2064.2 991.1L2064.9 996.5L2065.7 1002.1L2066.4 1007.8L2067.2 1013.4L2067.9 1019.1L2068.7 1024.5L2069.4 1029.8L2070.2 1034.9L2071.0 1040.3L2071.9 1045.5L2072.8 1050.5L2073.6 1055.4L2074.5 1060.4L2075.3 1065.4L2076.1 1070.9L2076.9 1077.1L2077.6 1082.1L2078.4 1084.1L2079.4 1081.9L2080.4 1076.1L2081.5 1068.5L2082.5 1060.3L2083.0 1056.2L2083.5 1051.8L2084.1 1046.9L2084.6 1041.1L2085.1 1034.4L2085.6 1026.4L2085.8 1022.7L2086.0 1018.1L2086.2 1012.7L2086.4 1006.7L2086.5 1000.4L2086.7 994.0L2086.9 987.6L2087.1 981.4L2087.3 975.6L2087.5 970.5L2087.7 965.3L2087.8 960.3L2088.0 955.6L2088.2 950.1L2088.4 945.0L2088.7 940.1L2088.9 935.2L2089.1 930.1L2089.3 924.7L2089.5 919.4L2089.7 913.9L2089.9 908.2L2090.1 902.4L2090.3 896.6L2090.5 890.8L2090.7 885.2L2090.9 879.5L2091.1 873.6L2091.3 867.7L2091.4 861.9L2091.6 856.1L2091.8 850.5L2092.0 845.1L2092.2 840.0L2092.4 833.7L2092.7 827.5L2092.9 821.5L2093.2 815.7L2093.4 810.2L2093.7 805.1L2093.9 800.3L2094.3 793.5L2094.7 787.1L2095.0 781.1L2095.4 775.5L2095.8 770.1L2096.2 764.8L2096.5 759.7L2096.9 754.6L2097.3 749.5L2097.7 743.7L2098.2 737.9L2098.6 732.1L2099.0 726.5L2099.4 721.1L2099.8 716.0L2100.3 711.3L2100.7 707.1L2101.4 701.1L2102.1 695.8L2102.7 690.8L2103.4 686.2L2104.1 681.7L2104.9 676.0L2105.8 670.5L2106.7 665.5L2107.5 661.4L2108.8 656.5L2110.0 652.2L2111.2 648.6L2112.5 646.1L2113.9 644.0L2115.3 642.2L2116.8 640.6L2118.2 639.3L2119.6 638.2L2121.0 637.4L2122.4 636.7L2123.8 636.1L2125.2 635.5L2126.7 635.1L2128.1 634.7L2129.5 634.4L2130.8 634.2L2132.0 634.0L2133.3 633.8L2134.6 633.7L2135.8 633.6L2137.1 633.5L2138.6 633.5L2140.1 633.4L2141.6 633.4L2143.1 633.4L2144.6 633.4L2146.0 633.4L2147.5 633.3L2149.0 633.3L2150.5 633.3L2152.0 633.3L2153.5 633.2L2154.8 632.7L2156.2 631.5L2157.5 630.2"/>
<g fill="#ff0000">
<circle cx="371.3" cy="594.6" r="4.55"/>
<circle cx="418.3" cy="596.1" r="4.55"/>
<circle cx="465.2" cy="597.3" r="4.55"/>
<circle cx="512.8" cy="599.4" r="4.55"/>
<circle cx="561.1" cy="600.0" r="4.55"/>
<circle cx="609.4" cy="601.2" r="4.55"/>
<circle cx="657.5" cy="602.3" r="4.55"/>
<circle cx="706.0" cy="604.0" r="4.55"/>
<circle cx="754.9" cy="604.8" r="4.55"/>
<circle cx="803.9" cy="605.3" r="4.55"/>
<circle cx="853.7" cy="607.1" r="4.55"/>
<circle cx="903.4" cy="608.3" r="4.55"/>
<circle cx="953.1" cy="610.1" r="4.55"/>
<circle cx="1002.5" cy="611.2" r="4.55"/>
<circle cx="1052.3" cy="611.4" r="4.55"/>
<circle cx="1102.3" cy="611.8" r="4.55"/>
<circle cx="1151.3" cy="612.8" r="4.55"/>
<circle cx="1199.7" cy="613.1" r="4.55"/>
<circle cx="1249.0" cy="613.2" r="4.55"/>
<circle cx="1298.4" cy="613.3" r="4.55"/>
<circle cx="1347.2" cy="613.7" r="4.55"/>
<circle cx="1396.5" cy="614.3" r="4.55"/>
<circle cx="1445.9" cy="615.3" r="4.55"/>
<circle cx="1494.8" cy="616.0" r="4.55"/>
<circle cx="1544.7" cy="616.4" r="4.55"/>
<circle cx="1595.1" cy="618.1" r="4.55"/>
<circle cx="1643.6" cy="620.6" r="4.55"/>
<circle cx="1693.0" cy="624.0" r="4.55"/>
<circle cx="1742.6" cy="627.5" r="4.55"/>
<circle cx="1792.0" cy="631.8" r="4.55"/>
<circle cx="1841.9" cy="641.2" r="4.55"/>
<circle cx="1889.7" cy="653.9" r="4.55"/>
<circle cx="1940.5" cy="675.7" r="4.55"/>
<circle cx="1990.2" cy="729.2" r="4.55"/>
<circle cx="2038.8" cy="855.0" r="4.55"/>
<circle cx="2088.0" cy="955.6" r="4.55"/>
<circle cx="2137.1" cy="633.5" r="4.55"/>
</g>
<path fill="none" stroke-width="2.3" stroke="#00ff00" d="M371.3 633.4L372.8 633.4L374.2 633.4L375.7 633.4L377.2 633.4L378.6 633.4L380.1 633.4L381.6 633.4L383.1 633.4L384.5 633.4L386.0 633.4L387.5 633.4L388.9 633.4L390.4 633.4L391.9 633.4L393.3 633.4L394.8 633.4L396.3 633.4L397.7 633.4L399.2 633.4L400.7 633.4L402.1 633.4L403.6 633.4L405.1 633.4L406.6 633.4L408.0 633.4L409.5 633.4L411.0 633.4L412.4 633.4L413.9 633.4L415.4 633.4L416.8 633.4L418.3 633.4L419.8 633.4L421.3 633.4L422.8 633.4L424.2 633.4L425.7 633.4L427.2 633.4L428.7 633.4L430.2 633.4L431.7 633.4L433.2 633.4L434.7 633.4L436.1 633.4L437.6 633.4L439.1 633.4L440.6 633.4L442.1 633.4L443.6 633.4L445.1 633.4L446.6 633.4L448.0 633.4L449.5 633.4L451.0 633.4L452.5 633.4L454.0 633.4L455.5 633.4L457.0 633.4L458.5 633.4L459.9 633.4L461.4 633.4L462.9 633.4L464.4 633.4L465.9 633.4L467.4 633.4L468.9 633.4L470.4 633.4L471.8 633.4L473.3 633.4L474.8 633.4L476.3 633.4L477.8 633.4L479.3 633.4L480.8 633.4L482.3 633.4L483.7 633.4L485.2 633.4L486.7 633.4L488.2 633.4L489.7 633.4L491.2 633.4L492.7 633.4L494.1 633.4L495.6 633.4L497.1 633.4L498.6 633.4L500.1 633.4L501.6 633.4L503.1 633.4L504.6 633.4L506.0 633.4L507.5 633.4L509.0 633.4L510.5 633.4L512.0 633.4L513.5 633.4L515.0 633.4L516.5 633.4L517.9 633.4L519.4 633.4L520.9 633.4L522.4 633.4L523.9 633.4L525.4 633.4L526.9 633.4L528.4 633.4L529.8 633.4L531.3 633.4L532.8 633.4L534.3 633.4L535.8 633.4L537.3 633.4L538.8 633.4L540.3 633.4L541.7 633.4L543.2 633.4L544.7 633.4L546.2 633.4L547.7 633.4L549.2 633.4L550.7 633.4L552.2 633.4L553.6 633.4L555.1 633.4L556.6 633.4L558.1 633.4L559.6 633.4L561.1 633.4L562.6 633.4L564.1 633.4L565.5 633.4L567.0 633.4L568.5 633.4L570.0 633.4L571.5 633.3L573.0 633.1L574.5 632.7L576.0 632.3L577.5 631.9L579.0 631.6L580.5 631.3L582.0 631.2L583.5 631.2L585.0 631.2L586.5 631.2L588.0 631.2L589.5 631.2L591.0 631.2L592.5 631.2L593.9 631.2L595.4 631.1L596.9 631.1L598.4 631.1L599.9 631.1L601.4 631.1L602.9 631.1L604.4 631.1L605.9 631.1L607.4 631.1L608.9 631.1L610.4 631.1L611.9 631.1L613.4 631.1L614.9 631.1L616.4 631.1L617.8 631.1L619.3 631.1L620.8 631.1L622.3 631.1L623.8 631.1L625.3 631.1L626.8 631.1L628.3 631.1L629.8 631.1L631.3 631.0L632.8 631.0L634.3 631.0L635.8 631.0L637.3 631.0L638.8 631.0L640.3 631.0L641.7 631.0L643.2 631.0L644.7 631.0L646.2 631.0L647.7 631.0L649.2 631.0L650.7 631.0L652.2 631.0L653.7 631.0L655.2 631.0L656.7 631.0L658.2 631.0L659.7 631.0L661.2 631.0L662.7 631.0L664.2 631.0L665.6 631.0L667.1 631.0L668.6 631.0L670.1 631.0L671.6 631.0L673.1 631.0L674.6 631.0L676.1 631.0L677.6 631.0L679.1 631.0L680.6 631.0L682.1 631.0L683.6 631.0L685.1 631.0L686.6 631.0L688.1 631.0L689.5 631.0L691.0 631.0L692.5 631.0L694.0 631.0L695.5 631.0L697.0 631.0L698.5 631.0L700.0 631.0L701.5 631.0L703.0 631.0L704.5 631.0L706.0 631.0L707.5 631.0L708.9 631.0L710.4 631.0L711.9 631.0L713.4 631.0L714.9 631.0L716.4 631.0L717.9 631.0L719.4 631.0L720.9 631.0L722.4 631.0L723.9 631.0L725.4 631.0L726.8 631.0L728.3 631.0L729.8 631.0L731.3 631.0L732.8 631.0L734.3 631.0L735.8 631.0L737.3 631.0L738.8 631.0L740.3 631.0L741.8 631.0L743.3 631.0L744.7 631.0L746.2 631.0L747.7 631.0L749.2 631.0L750.7 631.0L752.2 631.0L753.7 631.0L755.2 631.0L756.7 631.0L758.2 631.0L759.7 631.0L761.2 631.0L762.6 631.0L764.1 631.0L765.6 631.0L767.1 631.0L768.6 631.0L770.1 631.0L771.6 631.0L773.1 631.0L774.6 631.0L776.1 631.0L777.6 631.0L779.1 631.0L780.5 631.0L782.0 631.0L783.5 631.0L785.0 631.0L786.5 631.0L788.0 631.0L789.5 631.0L791.0 631.0L792.5 631.0L794.0 631.0L795.5 631.0L796.9 631.0L798.4 631.0L799.9 631.0L801.4 631.0L802.9 631.0L804.4 631.0L805.9 631.0L807.4 631.1L808.9 631.1L810.4 631.1L811.9 631.1L813.4 631.1L814.8 631.1L816.3 631.1L817.8 631.1L819.3 631.1L820.8 631.1L822.3 631.1L823.8 631.1L825.3 631.1L826.8 631.1L828.3 631.1L829.8 631.1L831.3 631.1L832.7 631.1L834.2 631.1L835.7 631.1L837.2 631.1L838.7 631.1L840.2 631.1L841.7 631.1L843.2 631.1L844.7 631.1L846.2 631.1L847.7 631.1L849.2 631.1L850.6 631.1L852.1 631.1L853.6 631.1L855.1 631.1L856.6 631.1L858.1 631.1L859.6 631.2L861.1 631.2L862.6 631.2L864.1 631.2L865.6 631.2L867.1 631.2L868.5 631.2L870.0 631.2L871.5 631.2L873.0 631.2L874.5 631.2L876.0 631.2L877.5 631.3L879.0 631.5L880.5 631.9L882.0 632.3L883.5 632.6L885.0 633.0L886.5 633.2L888.0 633.3L889.5 633.3L891.0 633.3L892.5 633.3L894.0 633.3L895.5 633.3L897.0 633.3L898.5 633.3L899.9 633.3L901.4 633.3L902.9 633.3L904.4 633.3L905.9 633.3L907.4 633.3L908.9 633.3L910.4 633.3L911.9 633.3L913.4 633.3L914.9 633.4L916.4 633.4L917.9 633.4L919.4 633.4L920.9 633.4L922.3 633.4L923.8 633.4L925.3 633.4L926.8 633.4L928.3 633.4L929.8 633.4L931.3 633.4L932.8 633.4L934.3 633.4L935.8 633.4L937.3 633.4L938.8 633.4L940.3 633.4L941.8 633.4L943.3 633.4L944.7 633.4L946.2 633.4L947.7 633.4L949.2 633.4L950.7 633.4L952.2 633.4L953.7 633.4L955.2 633.4L956.7 633.4L958.2 633.4L959.7 633.4L961.2 633.4L962.7 633.4L964.2 633.4L965.7 633.4L967.1 633.4L968.6 633.4L970.1 633.4L971.6 633.4L973.1 633.4L974.6 633.4L976.1 633.4L977.6 633.4L979.1 633.4L980.6 633.4L982.1 633.4L983.6 633.4L985.1 633.4L986.6 633.4L988.1 633.4L989.5 633.4L991.0 633.4L992.5 633.4L994.0 633.4L995.5 633.4L997.0 633.4L998.5 633.4L1000.0 633.4L1001.5 633.4L1003.0 633.4L1004.5 633.4L1006.0 633.4L1007.5 633.4L1009.0 633.4L1010.5 633.4L1011.9 633.4L1013.4 633.4L1014.9 633.4L1016.4 633.4L1017.9 633.4L1019.4 633.4L1020.9 633.4L1022.4 633.4L1023.9 633.4L1025.4 633.4L1026.9 633.4L1028.4 633.4L1029.9 633.4L1031.4 633.4L1032.9 633.4L1034.4 633.4L1035.8 633.4L1037.3 633.4L1038.8 633.4L1040.3 633.4L1041.8 633.4L1043.3 633.4L1044.8 633.4L1046.3 633.4L1047.8 633.4L1049.3 633.4L1050.8 633.4L1052.3 633.4L1053.8 633.4L1055.3 633.4L1056.8 633.4L1058.3 633.4L1059.7 633.4L1061.2 633.4L1062.7 633.4L1064.2 633.4L1065.7 633.4L1067.2 633.4L1068.7 633.4L1070.2 633.4L1071.7 633.4L1073.2 633.4L1074.7 633.4L1076.2 633.4L1077.7 633.4L1079.2 633.4L1080.7 633.4L1082.2 633.4L1083.6 633.4L1085.1 633.4L1086.6 633.4L1088.1 633.4L1089.6 633.4L1091.1 633.4L1092.6 633.4L1094.1 633.4L1095.6 633.4L1097.1 633.4L1098.6 633.4L1100.1 633.4L1101.6 633.4L1103.1 633.4L1104.6 633.4L1106.1 633.4L1107.5 633.4L1109.0 633.4L1110.5 633.4L1112.0 633.4L1113.5 633.4L1115.0 633.4L1116.5 633.4L1118.0 633.4L1119.4 633.3L1120.9 633.0L1122.3 632.6L1123.7 632.1L1125.1 631.7L1126.6 631.4L1128.0 631.3L1129.5 631.3L1131.0 631.3L1132.5 631.3L1134.0 631.3L1135.5 631.3L1137.0 631.3L1138.5 631.3L1139.9 631.3L1141.4 631.3L1142.9 631.3L1144.4 631.3L1145.9 631.3L1147.4 631.3L1148.9 631.3L1150.4 631.3L1151.9 631.3L1153.4 631.3L1154.9 631.3L1156.4 631.3L1157.9 631.3L1159.4 631.3L1160.9 631.3L1162.4 631.3L1163.8 631.3L1165.3 631.3L1166.8 631.3L1168.3 631.3L1169.8 631.3L1171.3 631.3L1172.8 631.3L1174.3 631.3L1175.8 631.3L1177.3 631.3L1178.8 631.3L1180.3 631.3L1181.8 631.3L1183.3 631.3L1184.8 631.3L1186.3 631.3L1187.7 631.3L1189.2 631.3L1190.7 631.3L1192.2 631.3L1193.7 631.3L1195.2 631.3L1196.7 631.3L1198.2 631.3L1199.7 631.3L1201.2 631.3L1202.7 631.3L1204.2 631.3L1205.7 631.3L1207.2 631.3L1208.7 631.3L1210.2 631.3L1211.6 631.3L1213.1 631.3L1214.6 631.3L1216.1 631.3L1217.6 631.3L1219.1 631.3L1220.6 631.3L1222.1 631.3L1223.6 631.3L1225.1 631.3L1226.6 631.3L1228.1 631.3L1229.6 631.3L1231.1 631.3L1232.6 631.3L1234.0 631.3L1235.5 631.3L1237.0 631.3L1238.5 631.3L1240.0 631.3L1241.5 631.3L1243.0 631.3L1244.5 631.3L1246.0 631.3L1247.5 631.3L1249.0 631.3L1250.5 631.3L1252.0 631.3L1253.5 631.3L1255.0 631.3L1256.5 631.3L1257.9 631.3L1259.4 631.3L1260.9 631.3L1262.4 631.3L1263.9 631.3L1265.4 631.3L1266.9 631.3L1268.4 631.3L1269.9 631.3L1271.4 631.3L1272.9 631.3L1274.4 631.3L1275.9 631.3L1277.4 631.3L1278.9 631.3L1280.4 631.3L1281.8 631.3L1283.3 631.3L1284.8 631.3L1286.3 631.3L1287.8 631.3L1289.3 631.3L1290.8 631.3L1292.3 631.3L1293.8 631.3L1295.3 631.3L1296.8 631.3L1298.2 631.3L1299.7 631.3L1301.2 631.3L1302.7 631.3L1304.2 631.3L1305.7 631.3L1307.2 631.3L1308.7 631.3L1310.1 631.3L1311.6 631.3L1313.1 631.3L1314.6 631.3L1316.1 631.3L1317.6 631.3L1319.1 631.3L1320.6 631.3L1322.0 631.3L1323.5 631.3L1325.0 631.3L1326.5 631.3L1328.0 631.3L1329.5 631.3L1331.0 631.3L1332.4 631.3L1333.9 631.3L1335.4 631.3L1336.9 631.3L1338.4 631.3L1339.9 631.3L1341.4 631.3L1342.9 631.3L1344.3 631.3L1345.8 631.3L1347.3 631.3L1348.8 631.3L1350.3 631.3L1351.8 631.3L1353.3 631.3L1354.7 631.3L1356.2 631.3L1357.7 631.3L1359.2 631.3L1360.7 631.3L1362.2 631.3L1363.7 631.3L1365.2 631.3L1366.6 631.3L1368.1 631.3L1369.6 631.3L1371.1 631.3L1372.6 631.3L1374.1 631.3L1375.6 631.3L1377.1 631.3L1378.5 631.3L1380.0 631.3L1381.5 631.3L1383.0 631.3L1384.5 631.3L1386.0 631.3L1387.5 631.3L1388.9 631.3L1390.4 631.3L1391.9 631.3L1393.4 631.3L1394.9 631.3L1396.4 631.3L1397.9 631.3L1399.4 631.3L1400.8 631.3L1402.3 631.3L1403.8 631.3L1405.3 631.3L1406.8 631.3L1408.3 631.3L1409.8 631.3L1411.2 631.3L1412.7 631.3L1414.2 631.3L1415.7 631.3L1417.2 631.3L1418.7 631.3L1420.2 631.3L1421.7 631.3L1423.1 631.3L1424.6 631.3L1426.1 631.3L1427.6 631.3L1429.1 631.3L1430.6 631.3L1432.1 631.3L1433.6 631.3L1435.0 631.3L1436.5 631.3L1438.0 631.3L1439.5 631.3L1441.0 631.3L1442.5 631.3L1444.0 631.3L1445.5 631.3L1447.0 631.3L1448.5 631.3L1450.0 631.3L1451.5 631.3L1452.9 631.3L1454.4 631.3L1455.9 631.3L1457.4 631.3L1458.9 631.3L1460.4 631.3L1461.9 631.3L1463.4 631.3L1464.9 631.3L1466.4 631.3L1467.9 631.3L1469.4 631.3L1470.9 631.3L1472.4 631.3L1473.9 631.3L1475.4 631.3L1476.8 631.3L1478.3 631.3L1479.8 631.3L1481.3 631.3L1482.8 631.3L1484.3 631.4L1485.8 631.4L1487.3 631.4L1488.8 631.4L1490.3 631.4L1491.8 631.4L1493.3 631.4L1494.8 631.4L1496.3 631.4L1497.8 631.4L1499.3 631.4L1500.8 631.4L1502.2 631.4L1503.7 631.4L1505.2 631.4L1506.7 631.4L1508.2 631.4L1509.7 631.4L1511.2 631.4L1512.7 631.4L1514.2 631.4L1515.7 631.4L1517.2 631.4L1518.7 631.4L1520.2 631.4L1521.7 631.4L1523.2 631.5L1524.7 631.5L1526.1 631.5L1527.6 631.5L1529.1 631.5L1530.6 631.5L1532.1 631.5L1533.6 631.5L1535.1 631.5L1536.6 631.5L1538.1 631.5L1539.6 631.5L1541.0 631.5L1542.5 631.5L1544.0 631.5L1545.4 631.5L1546.9 631.5L1548.4 631.5L1549.8 631.5L1551.3 631.6L1552.7 631.6L1554.2 631.6L1555.7 631.6L1557.1 631.6L1558.6 631.6L1560.1 631.6L1561.5 631.6L1563.0 631.6L1564.5 631.6L1565.9 631.6L1567.4 631.6L1568.9 631.7L1570.3 631.7L1571.8 631.7L1573.3 631.7L1574.7 631.7L1576.2 631.7L1577.6 631.7L1579.1 631.7L1580.6 631.7L1582.0 631.8L1583.5 631.8L1585.0 631.8L1586.4 631.8L1587.9 631.8L1589.4 631.8L1590.9 631.8L1592.4 631.8L1593.9 631.9L1595.4 631.9L1596.9 631.9L1598.4 631.9L1599.9 632.0L1601.3 632.0L1602.8 632.0L1604.3 632.0L1605.8 632.1L1607.3 632.1L1608.8 632.1L1610.3 632.2L1611.8 632.2L1613.3 632.2L1614.8 632.2L1616.3 632.3L1617.8 632.3L1619.3 632.3L1620.8 632.4L1622.3 632.4L1623.8 632.4L1625.3 632.4L1626.7 632.5L1628.2 632.5L1629.7 632.5L1631.2 632.5L1632.7 632.5L1634.2 632.6L1635.7 632.6L1637.2 632.6L1638.7 632.6L1640.2 632.6L1641.6 632.6L1643.1 632.6L1644.6 632.6L1646.0 632.6L1647.5 632.7L1649.0 632.7L1650.4 632.7L1651.9 632.7L1653.4 632.7L1654.8 632.7L1656.3 632.7L1657.8 632.7L1659.2 632.7L1660.7 632.7L1662.2 632.7L1663.6 632.7L1665.1 632.8L1666.5 632.8L1668.0 632.8L1669.5 632.8L1670.9 632.8L1672.4 632.8L1673.9 632.8L1675.3 632.8L1676.8 632.8L1678.3 632.8L1679.7 632.8L1681.2 632.8L1682.7 632.8L1684.1 632.8L1685.6 632.8L1687.1 632.8L1688.5 632.8L1690.0 632.8L1691.5 632.8L1692.9 632.8L1694.4 632.8L1695.9 632.8L1697.3 632.8L1698.8 632.8L1700.2 632.8L1701.7 632.8L1703.2 632.8L1704.6 632.8L1706.1 632.8L1707.6 632.8L1709.0 632.8L1710.5 632.8L1712.0 632.8L1713.4 632.8L1714.9 632.8L1716.4 632.8L1717.8 632.8L1719.3 632.8L1720.8 632.8L1722.2 632.8L1723.7 632.8L1725.1 632.8L1726.6 632.8L1728.1 632.8L1729.5 632.8L1731.0 632.8L1732.5 632.8L1733.9 632.8L1735.4 632.8L1736.9 632.8L1738.4 632.8L1739.9 632.8L1741.4 632.8L1742.9 632.8L1744.4 632.8L1745.9 632.9L1747.4 632.9L1748.9 632.9L1750.4 632.9L1751.9 632.9L1753.4 633.0L1754.9 633.0L1756.4 633.0L1757.9 633.0L1759.3 633.1L1760.8 633.1L1762.3 633.1L1763.8 633.1L1765.3 633.2L1766.8 633.2L1768.3 633.2L1769.8 633.3L1771.3 633.3L1772.8 633.3L1774.3 633.4L1775.8 633.4L1777.3 633.4L1778.8 633.4L1780.3 633.5L1781.8 633.5L1783.3 633.5L1784.8 633.5L1786.2 633.5L1787.7 633.6L1789.2 633.6L1790.6 633.6L1792.1 633.6L1793.6 633.6L1795.0 633.7L1796.5 633.7L1797.9 633.7L1799.4 633.7L1800.9 633.7L1802.3 633.7L1803.8 633.8L1805.3 633.8L1806.7 633.8L1808.2 633.8L1809.7 633.8L1811.1 633.8L1812.6 633.9L1814.1 633.9L1815.5 633.9L1817.0 633.9L1818.5 633.9L1819.9 634.0L1821.4 634.0L1822.8 634.0L1824.3 634.0L1825.8 634.1L1827.2 634.1L1828.7 634.1L1830.2 634.1L1831.6 634.2L1833.1 634.2L1834.6 634.2L1836.1 634.3L1837.5 634.3L1839.0 634.3L1840.5 634.4L1842.0 634.4L1843.5 634.5L1844.9 634.5L1846.4 634.6L1847.9 634.6L1849.4 634.7L1850.8 634.8L1852.3 634.8L1853.8 634.9L1855.3 634.9L1856.8 635.0L1858.2 635.1L1859.7 635.1L1861.2 635.2L1862.7 635.3L1864.2 635.3L1865.6 635.4L1867.1 635.5L1868.6 635.6L1870.1 635.6L1871.5 635.7L1873.0 635.8L1874.5 635.8L1876.0 635.9L1877.5 636.0L1878.9 636.1L1880.4 636.1L1881.9 636.2L1883.4 636.3L1884.9 636.3L1886.4 636.4L1887.9 636.5L1889.4 636.5L1890.9 636.6L1892.4 636.7L1893.9 636.7L1895.3 636.8L1896.8 636.9L1898.3 636.9L1899.8 637.0L1901.3 637.0L1902.8 637.1L1904.3 637.2L1905.8 637.3L1907.3 637.3L1908.8 637.4L1910.3 637.5L1911.8 637.6L1913.3 637.6L1914.8 637.7L1916.3 637.8L1917.8 637.9L1919.3 638.0L1920.7 638.1L1922.2 638.2L1923.7 638.3L1925.2 638.4L1926.7 638.5L1928.2 638.6L1929.7 638.7L1931.2 638.9L1932.7 639.0L1934.1 639.1L1935.6 639.3L1937.0 639.5L1938.4 639.7L1939.9 639.9L1941.3 640.2L1942.8 640.5L1944.2 640.7L1945.6 641.0L1947.1 641.3L1948.5 641.6L1949.9 641.9L1951.4 642.2L1952.8 642.6L1954.3 642.9L1955.7 643.2L1957.1 643.5L1958.6 643.8L1960.0 644.1L1961.5 644.4L1962.9 644.7L1964.3 645.0L1965.8 645.3L1967.2 645.6L1968.7 645.9L1970.2 646.2L1971.6 646.5L1973.0 646.9L1974.5 647.2L1976.0 647.5L1977.4 647.9L1978.8 648.2L1980.3 648.6L1981.8 649.0L1983.2 649.4L1984.7 649.8L1986.2 650.1L1987.7 650.6L1989.1 651.0L1990.6 651.4L1992.1 651.8L1993.6 652.3L1995.0 652.7L1996.5 653.2L1998.0 653.7L1999.5 654.3L2000.9 654.8L2002.4 655.4L2003.8 656.0L2005.2 656.6L2006.6 657.3L2008.0 658.1L2009.4 658.8L2010.8 659.6L2012.3 660.5L2013.7 661.3L2015.1 662.1L2016.5 663.0L2017.9 663.9L2019.3 664.7L2020.7 665.5L2022.1 666.3L2023.5 667.2L2024.9 668.0L2026.4 668.8L2027.8 669.7L2029.2 670.7L2030.6 671.8L2032.0 672.9L2033.4 674.2L2034.8 675.6L2036.2 677.1L2037.6 678.8L2039.1 680.6L2040.5 682.5L2041.9 684.4L2043.3 686.4L2044.7 688.5L2046.2 690.7L2047.6 693.1L2049.1 695.7L2050.5 698.4L2052.0 701.2L2053.4 704.1L2054.9 707.1L2056.4 710.2L2057.8 713.5L2059.3 716.9L2060.7 720.4L2062.2 724.2L2063.6 728.2L2065.1 732.5L2066.5 736.8L2067.8 741.6L2069.2 746.7L2070.5 752.2L2071.9 758.0L2072.9 762.5L2073.9 767.4L2074.9 772.5L2075.9 777.8L2076.9 783.4L2077.8 788.3L2078.6 793.5L2079.5 798.9L2080.3 804.6L2081.0 809.6L2081.7 814.9L2082.3 820.4L2083.0 825.7L2083.7 830.8L2084.6 836.4L2085.4 841.7L2086.3 848.0L2086.8 852.5L2087.3 857.5L2087.8 862.9L2088.3 868.8L2088.9 874.9L2089.4 881.3L2089.9 887.9L2090.4 894.5L2090.9 901.2L2091.4 907.8L2091.8 913.3L2092.2 919.1L2092.7 925.1L2093.1 931.2L2093.5 937.3L2093.9 943.5L2094.3 949.6L2094.8 955.6L2095.2 961.5L2095.6 967.1L2096.1 973.1L2096.5 978.9L2097.0 984.6L2097.5 990.2L2097.9 995.7L2098.4 1001.2L2098.9 1006.7L2099.3 1012.3L2099.8 1018.0L2100.2 1023.4L2100.7 1029.0L2101.1 1034.7L2101.5 1040.4L2101.9 1046.0L2102.3 1051.2L2102.8 1056.0L2103.2 1060.3L2104.0 1068.3L2104.8 1076.3L2105.7 1083.3L2106.5 1088.3L2107.3 1090.2L2108.4 1088.2L2109.4 1083.1L2110.4 1076.2L2111.5 1068.8L2112.1 1064.6L2112.6 1059.8L2113.2 1054.3L2113.8 1048.4L2114.3 1041.9L2114.9 1034.9L2115.2 1030.4L2115.6 1025.5L2115.9 1020.2L2116.3 1014.6L2116.6 1008.8L2116.9 1002.6L2117.3 996.2L2117.6 989.5L2118.0 982.6L2118.3 975.6L2118.5 971.0L2118.7 966.1L2118.9 960.9L2119.2 955.6L2119.4 950.1L2119.6 944.5L2119.8 938.9L2120.0 933.2L2120.2 928.3L2120.4 923.6L2120.6 918.9L2120.8 914.0L2120.9 908.9L2121.1 903.5L2121.3 897.5L2121.5 890.8L2121.6 886.0L2121.7 880.3L2121.8 874.1L2122.0 867.7L2122.1 861.3L2122.2 855.3L2122.3 850.0L2122.5 843.7L2122.6 837.6L2122.8 831.9L2122.9 826.5L2123.0 821.6L2123.2 817.3L2123.5 810.4L2123.7 804.0L2124.0 798.1L2124.2 792.5L2124.5 787.4L2124.8 782.8L2125.0 778.6L2125.3 774.9L2125.8 768.9L2126.3 763.9L2126.8 759.4L2127.3 755.0L2127.8 750.3L2128.3 745.1L2128.8 739.9L2129.3 734.5L2129.8 729.3L2130.3 724.1L2130.8 718.8L2131.3 713.5L2131.9 708.2L2132.4 703.2L2132.9 698.6L2133.6 692.8L2134.3 687.1L2134.9 681.8L2135.6 677.1L2136.3 673.2L2137.6 667.3L2138.9 662.3L2140.1 658.1L2141.4 654.6L2142.8 651.3L2144.2 648.2L2145.6 645.5L2147.0 643.2L2148.4 641.1L2149.8 639.3L2151.3 637.8L2152.7 636.4L2154.2 635.3L2155.6 634.2L2157.1 633.1L2158.5 632.0L2160.0 630.8L2161.3 629.9L2162.7 628.9L2164.0 627.0L2164.7 623.4L2165.3 617.5"/>
<g fill="#00ff00">
<path d="M371.3 626.7L377.1 637.9L365.5 637.9Z"/>
<path d="M418.3 626.7L424.1 637.9L412.5 637.9Z"/>
<path d="M465.2 626.7L471.0 637.9L459.4 637.9Z"/>
<path d="M511.3 626.7L517.1 637.9L505.5 637.9Z"/>
<path d="M560.2 626.7L566.0 637.9L554.4 637.9Z"/>
<path d="M608.1 624.4L613.9 635.6L602.3 635.6Z"/>
<path d="M655.2 624.3L661.0 635.5L649.4 635.5Z"/>
<path d="M704.6 624.3L710.4 635.5L698.8 635.5Z"/>
<path d="M752.9 624.3L758.7 635.5L747.1 635.5Z"/>
<path d="M801.3 624.3L807.1 635.5L795.5 635.5Z"/>
<path d="M850.5 624.4L856.3 635.6L844.7 635.6Z"/>
<path d="M900.4 626.6L906.2 637.8L894.6 637.8Z"/>
<path d="M949.6 626.7L955.4 637.9L943.8 637.9Z"/>
<path d="M999.3 626.7L1005.1 637.9L993.5 637.9Z"/>
<path d="M1048.2 626.7L1054.0 637.9L1042.4 637.9Z"/>
<path d="M1097.9 626.7L1103.7 637.9L1092.1 637.9Z"/>
<path d="M1147.4 624.6L1153.2 635.8L1141.6 635.8Z"/>
<path d="M1195.8 624.6L1201.6 635.8L1190.0 635.8Z"/>
<path d="M1244.1 624.6L1249.9 635.8L1238.3 635.8Z"/>
<path d="M1292.3 624.6L1298.1 635.8L1286.5 635.8Z"/>
<path d="M1341.8 624.6L1347.6 635.8L1336.0 635.8Z"/>
<path d="M1390.6 624.6L1396.4 635.8L1384.8 635.8Z"/>
<path d="M1439.5 624.6L1445.3 635.8L1433.7 635.8Z"/>
<path d="M1489.3 624.6L1495.1 635.8L1483.5 635.8Z"/>
<path d="M1538.1 624.8L1543.9 636.0L1532.3 636.0Z"/>
<path d="M1587.9 625.1L1593.7 636.3L1582.1 636.3Z"/>
<path d="M1638.7 625.9L1644.5 637.1L1632.9 637.1Z"/>
<path d="M1685.6 626.1L1691.4 637.3L1679.8 637.3Z"/>
<path d="M1735.4 626.1L1741.2 637.3L1729.6 637.3Z"/>
<path d="M1783.3 626.8L1789.1 638.0L1777.5 638.0Z"/>
<path d="M1833.1 627.5L1838.9 638.7L1827.3 638.7Z"/>
<path d="M1881.9 629.5L1887.7 640.7L1876.1 640.7Z"/>
<path d="M1932.7 632.3L1938.5 643.5L1926.9 643.5Z"/>
<path d="M1980.3 641.9L1986.1 653.1L1974.5 653.1Z"/>
<path d="M2032.0 666.2L2037.8 677.4L2026.2 677.4Z"/>
<path d="M2080.3 797.9L2086.1 809.1L2074.5 809.1Z"/>
<path d="M2127.8 743.6L2133.6 754.8L2122.0 754.8Z"/>
</g>
</g>
<text transform="translate(324.6 86.4) scale(0.952 1)" font-size="63" text-anchor="end">1000</text>
<text transform="translate(324.6 360.4) scale(0.952 1)" font-size="63" text-anchor="end">0</text>
<text transform="translate(324.6 634.3) scale(0.952 1)" font-size="63" text-anchor="end">-1000</text>
<text transform="translate(324.6 908.6) scale(0.952 1)" font-size="63" text-anchor="end">-2000</text>
<text transform="translate(324.6 1180.3) scale(0.952 1)" font-size="63" text-anchor="end">-3000</text>
<text transform="translate(324.6 1454.6) scale(0.952 1)" font-size="63" text-anchor="end">-4000</text>
<text transform="translate(371.5 1531.6) scale(0.952 1)" font-size="63" text-anchor="middle">50</text>
<text transform="translate(558.6 1531.6) scale(0.952 1)" font-size="63" text-anchor="middle">75</text>
<text transform="translate(743.7 1531.6) scale(0.952 1)" font-size="63" text-anchor="middle">100</text>
<text transform="translate(930.3 1531.6) scale(0.952 1)" font-size="63" text-anchor="middle">125</text>
<text transform="translate(1116.3 1531.6) scale(0.952 1)" font-size="63" text-anchor="middle">150</text>
<text transform="translate(1302.3 1531.6) scale(0.952 1)" font-size="63" text-anchor="middle">175</text>
<text transform="translate(1489.0 1531.6) scale(0.952 1)" font-size="63" text-anchor="middle">200</text>
<text transform="translate(1674.0 1531.6) scale(0.952 1)" font-size="63" text-anchor="middle">225</text>
<text transform="translate(1859.7 1531.6) scale(0.952 1)" font-size="63" text-anchor="middle">250</text>
<text transform="translate(2046.2 1531.6) scale(0.952 1)" font-size="63" text-anchor="middle">275</text>
<text transform="translate(2231.9 1531.6) scale(0.952 1)" font-size="63" text-anchor="middle">300</text>
<text transform="translate(1019.4 1658.6) scale(0.9415 1)" font-size="77.5" text-anchor="start">Temperature (</text>
<text transform="translate(1483.4 1621.0) scale(1.08 1)" font-size="42" text-anchor="start">o</text>
<text transform="translate(1507.2 1658.6) scale(0.95 1)" font-size="77.5" text-anchor="start">C</text>
<text transform="translate(1564.2 1658.6) scale(0.95 1)" font-size="77.5" text-anchor="start">)</text>
<text transform="translate(96.2 864.6) rotate(-90) scale(0.949 1)" font-size="77.5">Endothermic</text>
<line x1="133.3" y1="372.8" x2="133.3" y2="975" stroke="#111" stroke-width="2.5"/>
<path d="M123.3 971.5L143 971.5L133.6 1007.5Z" fill="#000"/>
<g stroke-width="2.3" fill="none">
<line x1="1576.2" y1="155.4" x2="1712.6" y2="155.4" stroke="#000"/>
<line x1="1576.2" y1="228.7" x2="1712.6" y2="228.7" stroke="#ff1a1a"/>
<line x1="1576.2" y1="302.3" x2="1710" y2="302.3" stroke="#8cff8c"/>
</g>
<rect x="1639.5" y="150.0" width="8.9" height="8.9" fill="#000"/>
<circle cx="1643.3" cy="228.8" r="4.2" fill="#ff0000"/>
<path d="M1644.2 295.0L1649.7 306.4L1638.7 306.4Z" fill="#00ff00"/>
<text transform="translate(1726.3 175.6) scale(0.955 1)" font-size="62.5" text-anchor="start">BCP</text>
<text transform="translate(1726.3 249.3) scale(0.955 1)" font-size="62.5" text-anchor="start">BCP/PMMA</text>
<text transform="translate(2064.0 249.3) scale(0.985 1)" font-size="62.5" text-anchor="start">(5:1)</text>
<text transform="translate(1726.3 323.2) scale(0.958 1)" font-size="62.5" text-anchor="start">BCP/PVP</text>
<text transform="translate(2003.2 323.2) scale(0.985 1)" font-size="62.5" text-anchor="start">(5:1)</text>
</svg>
</body>
</html>
